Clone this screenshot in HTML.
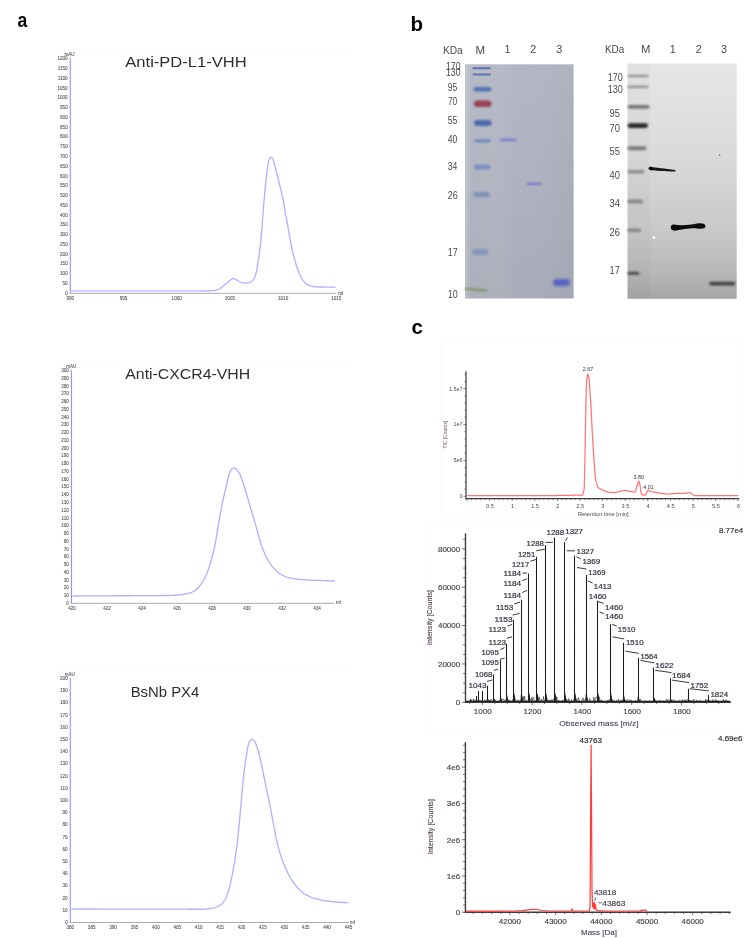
<!DOCTYPE html><html><head><meta charset="utf-8"><style>html,body{margin:0;padding:0;background:#fff;}svg{display:block;}text{font-family:"Liberation Sans", sans-serif;}</style></head><body>
<div id="wrap"><svg width="744" height="938" viewBox="0 0 744 938">
<rect width="744" height="938" fill="#fff"/>
<g style="will-change:transform">
<text x="17.6" y="27.1" font-size="20.5" fill="#000" text-anchor="start" font-weight="bold" textLength="9.8" lengthAdjust="spacingAndGlyphs">a</text>
<text x="410.6" y="31" font-size="20.5" fill="#000" text-anchor="start" font-weight="bold">b</text>
<text x="411.6" y="333.9" font-size="20.5" fill="#000" text-anchor="start" font-weight="bold">c</text>
<line x1="70.3" y1="57.8" x2="70.3" y2="293.6" stroke="#9292ff" stroke-width="1.1"/>
<line x1="70.3" y1="293.3" x2="336.5" y2="293.3" stroke="#a3a3a3" stroke-width="0.9"/>
<text x="67.7" y="294.8" font-size="4.6" fill="#505050" text-anchor="end" stroke="#505050" stroke-width="0.08">0</text>
<line x1="68.8" y1="293.1" x2="70.3" y2="293.1" stroke="#c8c8c8" stroke-width="0.5"/>
<text x="67.7" y="285.03" font-size="4.6" fill="#505050" text-anchor="end" stroke="#505050" stroke-width="0.08">50</text>
<line x1="68.8" y1="283.33" x2="70.3" y2="283.33" stroke="#c8c8c8" stroke-width="0.5"/>
<text x="67.7" y="275.25" font-size="4.6" fill="#505050" text-anchor="end" stroke="#505050" stroke-width="0.08">100</text>
<line x1="68.8" y1="273.56" x2="70.3" y2="273.56" stroke="#c8c8c8" stroke-width="0.5"/>
<text x="67.7" y="265.48" font-size="4.6" fill="#505050" text-anchor="end" stroke="#505050" stroke-width="0.08">150</text>
<line x1="68.8" y1="263.78" x2="70.3" y2="263.78" stroke="#c8c8c8" stroke-width="0.5"/>
<text x="67.7" y="255.71" font-size="4.6" fill="#505050" text-anchor="end" stroke="#505050" stroke-width="0.08">200</text>
<line x1="68.8" y1="254.01" x2="70.3" y2="254.01" stroke="#c8c8c8" stroke-width="0.5"/>
<text x="67.7" y="245.94" font-size="4.6" fill="#505050" text-anchor="end" stroke="#505050" stroke-width="0.08">250</text>
<line x1="68.8" y1="244.24" x2="70.3" y2="244.24" stroke="#c8c8c8" stroke-width="0.5"/>
<text x="67.7" y="236.17" font-size="4.6" fill="#505050" text-anchor="end" stroke="#505050" stroke-width="0.08">300</text>
<line x1="68.8" y1="234.47" x2="70.3" y2="234.47" stroke="#c8c8c8" stroke-width="0.5"/>
<text x="67.7" y="226.39" font-size="4.6" fill="#505050" text-anchor="end" stroke="#505050" stroke-width="0.08">350</text>
<line x1="68.8" y1="224.69" x2="70.3" y2="224.69" stroke="#c8c8c8" stroke-width="0.5"/>
<text x="67.7" y="216.62" font-size="4.6" fill="#505050" text-anchor="end" stroke="#505050" stroke-width="0.08">400</text>
<line x1="68.8" y1="214.92" x2="70.3" y2="214.92" stroke="#c8c8c8" stroke-width="0.5"/>
<text x="67.7" y="206.85" font-size="4.6" fill="#505050" text-anchor="end" stroke="#505050" stroke-width="0.08">450</text>
<line x1="68.8" y1="205.15" x2="70.3" y2="205.15" stroke="#c8c8c8" stroke-width="0.5"/>
<text x="67.7" y="197.07" font-size="4.6" fill="#505050" text-anchor="end" stroke="#505050" stroke-width="0.08">500</text>
<line x1="68.8" y1="195.38" x2="70.3" y2="195.38" stroke="#c8c8c8" stroke-width="0.5"/>
<text x="67.7" y="187.3" font-size="4.6" fill="#505050" text-anchor="end" stroke="#505050" stroke-width="0.08">550</text>
<line x1="68.8" y1="185.6" x2="70.3" y2="185.6" stroke="#c8c8c8" stroke-width="0.5"/>
<text x="67.7" y="177.53" font-size="4.6" fill="#505050" text-anchor="end" stroke="#505050" stroke-width="0.08">600</text>
<line x1="68.8" y1="175.83" x2="70.3" y2="175.83" stroke="#c8c8c8" stroke-width="0.5"/>
<text x="67.7" y="167.76" font-size="4.6" fill="#505050" text-anchor="end" stroke="#505050" stroke-width="0.08">650</text>
<line x1="68.8" y1="166.06" x2="70.3" y2="166.06" stroke="#c8c8c8" stroke-width="0.5"/>
<text x="67.7" y="157.99" font-size="4.6" fill="#505050" text-anchor="end" stroke="#505050" stroke-width="0.08">700</text>
<line x1="68.8" y1="156.29" x2="70.3" y2="156.29" stroke="#c8c8c8" stroke-width="0.5"/>
<text x="67.7" y="148.21" font-size="4.6" fill="#505050" text-anchor="end" stroke="#505050" stroke-width="0.08">750</text>
<line x1="68.8" y1="146.51" x2="70.3" y2="146.51" stroke="#c8c8c8" stroke-width="0.5"/>
<text x="67.7" y="138.44" font-size="4.6" fill="#505050" text-anchor="end" stroke="#505050" stroke-width="0.08">800</text>
<line x1="68.8" y1="136.74" x2="70.3" y2="136.74" stroke="#c8c8c8" stroke-width="0.5"/>
<text x="67.7" y="128.67" font-size="4.6" fill="#505050" text-anchor="end" stroke="#505050" stroke-width="0.08">850</text>
<line x1="68.8" y1="126.97" x2="70.3" y2="126.97" stroke="#c8c8c8" stroke-width="0.5"/>
<text x="67.7" y="118.9" font-size="4.6" fill="#505050" text-anchor="end" stroke="#505050" stroke-width="0.08">900</text>
<line x1="68.8" y1="117.2" x2="70.3" y2="117.2" stroke="#c8c8c8" stroke-width="0.5"/>
<text x="67.7" y="109.12" font-size="4.6" fill="#505050" text-anchor="end" stroke="#505050" stroke-width="0.08">950</text>
<line x1="68.8" y1="107.42" x2="70.3" y2="107.42" stroke="#c8c8c8" stroke-width="0.5"/>
<text x="67.7" y="99.35" font-size="4.6" fill="#505050" text-anchor="end" stroke="#505050" stroke-width="0.08">1000</text>
<line x1="68.8" y1="97.65" x2="70.3" y2="97.65" stroke="#c8c8c8" stroke-width="0.5"/>
<text x="67.7" y="89.58" font-size="4.6" fill="#505050" text-anchor="end" stroke="#505050" stroke-width="0.08">1050</text>
<line x1="68.8" y1="87.88" x2="70.3" y2="87.88" stroke="#c8c8c8" stroke-width="0.5"/>
<text x="67.7" y="79.81" font-size="4.6" fill="#505050" text-anchor="end" stroke="#505050" stroke-width="0.08">1100</text>
<line x1="68.8" y1="78.11" x2="70.3" y2="78.11" stroke="#c8c8c8" stroke-width="0.5"/>
<text x="67.7" y="70.03" font-size="4.6" fill="#505050" text-anchor="end" stroke="#505050" stroke-width="0.08">1150</text>
<line x1="68.8" y1="68.33" x2="70.3" y2="68.33" stroke="#c8c8c8" stroke-width="0.5"/>
<text x="67.7" y="60.26" font-size="4.6" fill="#505050" text-anchor="end" stroke="#505050" stroke-width="0.08">1200</text>
<line x1="68.8" y1="58.56" x2="70.3" y2="58.56" stroke="#c8c8c8" stroke-width="0.5"/>
<text x="70.3" y="299.6" font-size="4.6" fill="#505050" text-anchor="middle" stroke="#505050" stroke-width="0.08">990</text>
<text x="123.5" y="299.6" font-size="4.6" fill="#505050" text-anchor="middle" stroke="#505050" stroke-width="0.08">995</text>
<text x="176.7" y="299.6" font-size="4.6" fill="#505050" text-anchor="middle" stroke="#505050" stroke-width="0.08">1000</text>
<text x="229.9" y="299.6" font-size="4.6" fill="#505050" text-anchor="middle" stroke="#505050" stroke-width="0.08">1005</text>
<text x="283.1" y="299.6" font-size="4.6" fill="#505050" text-anchor="middle" stroke="#505050" stroke-width="0.08">1010</text>
<text x="336.3" y="299.6" font-size="4.6" fill="#505050" text-anchor="middle" stroke="#505050" stroke-width="0.08">1015</text>
<text x="64.6" y="56.3" font-size="4.6" fill="#505050" text-anchor="start" textLength="10" lengthAdjust="spacingAndGlyphs" stroke="#505050" stroke-width="0.08">mAU</text>
<text x="338.2" y="295" font-size="4.6" fill="#505050" text-anchor="start" stroke="#505050" stroke-width="0.08">ml</text>
<path d="M71.35,290.9 L71.84,290.9 L72.48,290.9 L73.22,290.9 L74,290.9 L74.8,290.9 L75.6,290.9 L76.4,290.9 L77.2,290.9 L78,290.9 L78.8,290.9 L79.6,290.9 L80.4,290.9 L81.2,290.9 L82,290.9 L82.8,290.9 L83.6,290.9 L84.4,290.9 L85.2,290.9 L86,290.9 L86.8,290.9 L87.6,290.9 L88.4,290.9 L89.2,290.9 L90,290.9 L90.8,290.9 L91.6,290.9 L92.4,290.9 L93.2,290.9 L94,290.9 L94.8,290.9 L95.6,290.9 L96.4,290.9 L97.2,290.9 L98,290.9 L98.8,290.9 L99.6,290.9 L100.4,290.9 L101.2,290.9 L102,290.9 L102.8,290.9 L103.6,290.9 L104.4,290.9 L105.2,290.9 L106,290.9 L106.8,290.9 L107.6,290.9 L108.4,290.9 L109.2,290.9 L110,290.9 L110.8,290.9 L111.6,290.9 L112.4,290.9 L113.2,290.9 L114,290.9 L114.8,290.9 L115.6,290.9 L116.4,290.9 L117.2,290.9 L118,290.9 L118.8,290.9 L119.6,290.9 L120.4,290.9 L121.2,290.9 L122,290.9 L122.8,290.9 L123.6,290.9 L124.4,290.9 L125.2,290.9 L126,290.9 L126.8,290.9 L127.6,290.9 L128.4,290.9 L129.2,290.9 L130,290.9 L130.8,290.9 L131.6,290.9 L132.4,290.9 L133.2,290.9 L134,290.9 L134.8,290.9 L135.6,290.9 L136.4,290.9 L137.2,290.9 L138,290.9 L138.8,290.9 L139.6,290.9 L140.4,290.9 L141.2,290.9 L142,290.9 L142.8,290.9 L143.6,290.9 L144.4,290.9 L145.2,290.9 L146,290.9 L146.8,290.9 L147.6,290.9 L148.4,290.9 L149.2,290.9 L150,290.9 L151,290.9 L151.8,290.9 L152.6,290.9 L153.4,290.9 L154.2,290.9 L155,290.9 L155.8,290.9 L156.6,290.9 L157.4,290.9 L158.2,290.9 L159,290.9 L159.8,290.9 L160.6,290.9 L161.4,290.9 L162.2,290.9 L163,290.9 L163.8,290.9 L164.6,290.9 L165.4,290.9 L166.2,290.9 L167,290.9 L167.8,290.9 L168.6,290.9 L169.4,290.9 L170.2,290.9 L171,290.9 L171.8,290.9 L172.6,290.9 L173.4,290.9 L174.2,290.9 L175,290.9 L175.8,290.9 L176.6,290.9 L177.4,290.9 L178.2,290.9 L179,290.9 L179.8,290.9 L180.6,290.9 L181.4,290.9 L182.2,290.9 L183,290.9 L183.8,290.9 L184.6,290.9 L185.4,290.9 L186.2,290.9 L187,290.9 L187.8,290.9 L188.6,290.9 L189.4,290.9 L190.2,290.9 L191,290.9 L191.8,290.9 L192.6,290.9 L193.4,290.9 L194.2,290.9 L195,290.9 L195.8,290.9 L196.6,290.9 L197.4,290.9 L198.2,290.9 L199,290.9 L199.8,290.9 L200.6,290.9 L201.4,290.9 L202.2,290.9 L203,290.9 L203.8,290.89 L204.6,290.89 L205.4,290.87 L206.2,290.85 L207,290.82 L207.8,290.79 L208.6,290.76 L209.4,290.73 L210.2,290.7 L211,290.67 L211.79,290.64 L212.59,290.6 L213.39,290.56 L214.19,290.5 L214.97,290.4 L215.75,290.26 L216.52,290.07 L217.28,289.84 L218.03,289.57 L218.75,289.26 L219.45,288.89 L220.12,288.47 L220.77,288.01 L221.41,287.53 L222.04,287.04 L222.67,286.55 L223.3,286.06 L223.92,285.55 L224.53,285.03 L225.13,284.51 L225.73,283.98 L226.33,283.44 L226.92,282.91 L227.68,282.25 L228.28,281.73 L228.9,281.23 L229.52,280.73 L230.16,280.24 L230.79,279.76 L231.44,279.31 L232.09,278.94 L232.78,278.69 L233.49,278.6 L234.21,278.68 L234.93,278.9 L235.63,279.23 L236.3,279.63 L236.96,280.08 L237.61,280.53 L238.28,280.96 L238.96,281.36 L239.67,281.72 L240.4,282.04 L241.14,282.32 L241.9,282.57 L242.66,282.78 L243.44,282.95 L244.22,283.08 L245.01,283.17 L245.8,283.21 L246.59,283.19 L247.37,283.1 L248.14,282.95 L248.91,282.75 L249.65,282.49 L250.36,282.17 L251.04,281.78 L251.69,281.33 L252.31,280.84 L252.88,280.3 L253.38,279.71 L253.83,279.07 L254.21,278.38 L254.56,277.67 L254.87,276.94 L255.14,276.19 L255.38,275.43 L255.61,274.66 L255.82,273.89 L256.03,273.12 L256.24,272.35 L256.43,271.57 L256.61,270.79 L256.77,270.01 L256.91,269.22 L257.03,268.43 L257.15,267.64 L257.27,266.85 L257.39,266.06 L257.5,265.27 L257.62,264.48 L257.74,263.69 L257.85,262.9 L257.97,262.1 L258.09,261.31 L258.2,260.52 L258.32,259.73 L258.43,258.94 L258.55,258.15 L258.67,257.36 L258.78,256.56 L258.9,255.77 L259.02,254.98 L259.13,254.19 L259.25,253.4 L259.36,252.61 L259.47,251.81 L259.58,251.02 L259.69,250.23 L259.79,249.43 L259.89,248.64 L259.99,247.85 L260.08,247.05 L260.18,246.26 L260.28,245.46 L260.38,244.67 L260.47,243.88 L260.57,243.08 L260.67,242.29 L260.77,241.49 L260.86,240.7 L260.95,239.9 L261.03,239.11 L261.1,238.31 L261.17,237.52 L261.24,236.72 L261.31,235.92 L261.37,235.12 L261.44,234.33 L261.51,233.53 L261.57,232.73 L261.64,231.94 L261.71,231.14 L261.79,230.14 L261.85,229.34 L261.92,228.55 L261.99,227.75 L262.05,226.95 L262.12,226.16 L262.19,225.36 L262.25,224.56 L262.31,223.76 L262.37,222.97 L262.43,222.17 L262.48,221.37 L262.54,220.57 L262.59,219.77 L262.65,218.97 L262.7,218.18 L262.76,217.38 L262.81,216.58 L262.87,215.78 L262.92,214.98 L262.98,214.19 L263.03,213.39 L263.09,212.59 L263.14,211.79 L263.2,210.99 L263.26,210.2 L263.32,209.4 L263.38,208.6 L263.45,207.8 L263.52,207.01 L263.59,206.21 L263.66,205.41 L263.73,204.62 L263.8,203.82 L263.87,203.02 L263.94,202.23 L264.01,201.43 L264.08,200.63 L264.15,199.84 L264.23,199.04 L264.3,198.24 L264.37,197.44 L264.44,196.65 L264.51,195.85 L264.58,195.05 L264.65,194.26 L264.73,193.46 L264.8,192.66 L264.87,191.87 L264.95,191.07 L265.02,190.27 L265.1,189.48 L265.17,188.68 L265.25,187.89 L265.32,187.09 L265.4,186.29 L265.47,185.5 L265.55,184.7 L265.62,183.9 L265.7,183.11 L265.78,182.31 L265.87,181.52 L265.96,180.72 L266.05,179.93 L266.14,179.13 L266.24,178.34 L266.33,177.54 L266.43,176.75 L266.52,175.95 L266.62,175.16 L266.71,174.36 L266.81,173.57 L266.9,172.78 L267,171.98 L267.1,171.19 L267.21,170.4 L267.32,169.6 L267.43,168.81 L267.55,168.02 L267.67,167.23 L267.78,166.44 L267.9,165.65 L268.01,164.85 L268.13,164.06 L268.26,163.28 L268.41,162.49 L268.57,161.71 L268.76,160.93 L268.96,160.16 L269.19,159.4 L269.45,158.67 L269.77,158.02 L270.17,157.52 L270.64,157.24 L271.14,157.24 L271.63,157.51 L272.09,158 L272.5,158.62 L272.86,159.31 L273.24,160.22 L273.51,160.97 L273.75,161.73 L273.99,162.5 L274.22,163.26 L274.45,164.03 L274.66,164.8 L274.86,165.57 L275.06,166.35 L275.26,167.12 L275.45,167.9 L275.64,168.68 L275.84,169.45 L276.03,170.23 L276.22,171 L276.42,171.78 L276.61,172.56 L276.8,173.33 L276.99,174.11 L277.18,174.89 L277.37,175.66 L277.57,176.44 L277.76,177.22 L277.95,177.99 L278.14,178.77 L278.34,179.55 L278.53,180.32 L278.72,181.1 L278.92,181.88 L279.11,182.65 L279.31,183.43 L279.5,184.2 L279.69,184.98 L279.89,185.76 L280.08,186.53 L280.27,187.31 L280.46,188.09 L280.66,188.86 L280.85,189.64 L281.04,190.42 L281.23,191.19 L281.42,191.97 L281.61,192.75 L281.79,193.53 L281.96,194.31 L282.13,195.09 L282.29,195.87 L282.46,196.66 L282.62,197.44 L282.78,198.22 L282.94,199.01 L283.1,199.79 L283.26,200.58 L283.4,201.36 L283.54,202.15 L283.67,202.94 L283.79,203.73 L283.91,204.52 L284.04,205.31 L284.16,206.1 L284.28,206.89 L284.4,207.68 L284.53,208.47 L284.65,209.26 L284.77,210.05 L284.9,210.84 L285.02,211.63 L285.14,212.42 L285.27,213.21 L285.41,214 L285.56,214.79 L285.72,215.57 L285.88,216.36 L286.04,217.14 L286.21,217.92 L286.37,218.7 L286.54,219.49 L286.7,220.27 L286.87,221.05 L287.03,221.84 L287.18,222.62 L287.33,223.41 L287.47,224.19 L287.61,224.98 L287.74,225.77 L287.87,226.56 L288,227.35 L288.13,228.14 L288.26,228.93 L288.39,229.72 L288.52,230.51 L288.65,231.3 L288.78,232.09 L288.92,232.87 L289.05,233.66 L289.19,234.45 L289.33,235.24 L289.47,236.03 L289.61,236.81 L289.75,237.6 L289.93,238.59 L290.07,239.37 L290.21,240.16 L290.35,240.95 L290.49,241.73 L290.64,242.52 L290.79,243.31 L290.94,244.09 L291.1,244.88 L291.27,245.66 L291.44,246.44 L291.61,247.22 L291.78,248 L291.95,248.78 L292.12,249.57 L292.3,250.35 L292.47,251.13 L292.64,251.91 L292.82,252.69 L293,253.47 L293.2,254.24 L293.4,255.02 L293.61,255.79 L293.82,256.56 L294.04,257.33 L294.26,258.1 L294.48,258.87 L294.69,259.64 L294.91,260.41 L295.13,261.18 L295.35,261.95 L295.57,262.72 L295.8,263.48 L296.04,264.25 L296.29,265.01 L296.54,265.77 L296.79,266.52 L297.05,267.28 L297.31,268.04 L297.57,268.79 L297.83,269.55 L298.08,270.31 L298.35,271.06 L298.62,271.82 L298.91,272.56 L299.22,273.3 L299.55,274.02 L299.9,274.74 L300.26,275.45 L300.63,276.16 L300.99,276.88 L301.36,277.59 L301.73,278.29 L302.12,278.99 L302.53,279.66 L302.99,280.31 L303.49,280.93 L304.02,281.52 L304.57,282.1 L305.12,282.67 L305.69,283.23 L306.27,283.77 L306.88,284.27 L307.53,284.69 L308.22,285.05 L308.95,285.35 L309.7,285.62 L310.45,285.88 L311.22,286.11 L311.98,286.32 L312.76,286.48 L313.54,286.6 L314.34,286.68 L315.13,286.73 L315.93,286.78 L316.73,286.82 L317.53,286.87 L318.33,286.91 L319.13,286.94 L319.93,286.98 L320.72,287 L321.52,287.02 L322.32,287.03 L323.12,287.04 L323.92,287.06 L324.72,287.07 L325.52,287.08 L326.32,287.09 L327.12,287.1 L327.92,287.11 L328.72,287.12 L329.52,287.13 L330.32,287.14 L331.12,287.14 L331.92,287.15 L332.72,287.16 L333.51,287.17 L334.26,287.18 L334.93,287.19 L335.57,287.19" fill="none" stroke="#b2b2ff" stroke-width="1.35" stroke-linejoin="round"/>
<text x="125.3" y="67" font-size="14" fill="#2e2e2e" text-anchor="start" textLength="121.4" lengthAdjust="spacingAndGlyphs">Anti-PD-L1-VHH</text>
<line x1="71.5" y1="370.1" x2="71.5" y2="603.6" stroke="#9292ff" stroke-width="1.1"/>
<line x1="71.5" y1="603.3" x2="334.5" y2="603.3" stroke="#a3a3a3" stroke-width="0.9"/>
<text x="68.9" y="604.8" font-size="4.6" fill="#505050" text-anchor="end" stroke="#505050" stroke-width="0.08">0</text>
<line x1="70" y1="603.1" x2="71.5" y2="603.1" stroke="#c8c8c8" stroke-width="0.5"/>
<text x="68.9" y="597.05" font-size="4.6" fill="#505050" text-anchor="end" stroke="#505050" stroke-width="0.08">10</text>
<line x1="70" y1="595.35" x2="71.5" y2="595.35" stroke="#c8c8c8" stroke-width="0.5"/>
<text x="68.9" y="589.29" font-size="4.6" fill="#505050" text-anchor="end" stroke="#505050" stroke-width="0.08">20</text>
<line x1="70" y1="587.59" x2="71.5" y2="587.59" stroke="#c8c8c8" stroke-width="0.5"/>
<text x="68.9" y="581.54" font-size="4.6" fill="#505050" text-anchor="end" stroke="#505050" stroke-width="0.08">30</text>
<line x1="70" y1="579.84" x2="71.5" y2="579.84" stroke="#c8c8c8" stroke-width="0.5"/>
<text x="68.9" y="573.78" font-size="4.6" fill="#505050" text-anchor="end" stroke="#505050" stroke-width="0.08">40</text>
<line x1="70" y1="572.08" x2="71.5" y2="572.08" stroke="#c8c8c8" stroke-width="0.5"/>
<text x="68.9" y="566.03" font-size="4.6" fill="#505050" text-anchor="end" stroke="#505050" stroke-width="0.08">50</text>
<line x1="70" y1="564.33" x2="71.5" y2="564.33" stroke="#c8c8c8" stroke-width="0.5"/>
<text x="68.9" y="558.27" font-size="4.6" fill="#505050" text-anchor="end" stroke="#505050" stroke-width="0.08">60</text>
<line x1="70" y1="556.57" x2="71.5" y2="556.57" stroke="#c8c8c8" stroke-width="0.5"/>
<text x="68.9" y="550.52" font-size="4.6" fill="#505050" text-anchor="end" stroke="#505050" stroke-width="0.08">70</text>
<line x1="70" y1="548.82" x2="71.5" y2="548.82" stroke="#c8c8c8" stroke-width="0.5"/>
<text x="68.9" y="542.76" font-size="4.6" fill="#505050" text-anchor="end" stroke="#505050" stroke-width="0.08">80</text>
<line x1="70" y1="541.06" x2="71.5" y2="541.06" stroke="#c8c8c8" stroke-width="0.5"/>
<text x="68.9" y="535.01" font-size="4.6" fill="#505050" text-anchor="end" stroke="#505050" stroke-width="0.08">90</text>
<line x1="70" y1="533.31" x2="71.5" y2="533.31" stroke="#c8c8c8" stroke-width="0.5"/>
<text x="68.9" y="527.25" font-size="4.6" fill="#505050" text-anchor="end" stroke="#505050" stroke-width="0.08">100</text>
<line x1="70" y1="525.55" x2="71.5" y2="525.55" stroke="#c8c8c8" stroke-width="0.5"/>
<text x="68.9" y="519.5" font-size="4.6" fill="#505050" text-anchor="end" stroke="#505050" stroke-width="0.08">110</text>
<line x1="70" y1="517.8" x2="71.5" y2="517.8" stroke="#c8c8c8" stroke-width="0.5"/>
<text x="68.9" y="511.74" font-size="4.6" fill="#505050" text-anchor="end" stroke="#505050" stroke-width="0.08">120</text>
<line x1="70" y1="510.04" x2="71.5" y2="510.04" stroke="#c8c8c8" stroke-width="0.5"/>
<text x="68.9" y="503.99" font-size="4.6" fill="#505050" text-anchor="end" stroke="#505050" stroke-width="0.08">130</text>
<line x1="70" y1="502.29" x2="71.5" y2="502.29" stroke="#c8c8c8" stroke-width="0.5"/>
<text x="68.9" y="496.23" font-size="4.6" fill="#505050" text-anchor="end" stroke="#505050" stroke-width="0.08">140</text>
<line x1="70" y1="494.53" x2="71.5" y2="494.53" stroke="#c8c8c8" stroke-width="0.5"/>
<text x="68.9" y="488.48" font-size="4.6" fill="#505050" text-anchor="end" stroke="#505050" stroke-width="0.08">150</text>
<line x1="70" y1="486.78" x2="71.5" y2="486.78" stroke="#c8c8c8" stroke-width="0.5"/>
<text x="68.9" y="480.72" font-size="4.6" fill="#505050" text-anchor="end" stroke="#505050" stroke-width="0.08">160</text>
<line x1="70" y1="479.02" x2="71.5" y2="479.02" stroke="#c8c8c8" stroke-width="0.5"/>
<text x="68.9" y="472.96" font-size="4.6" fill="#505050" text-anchor="end" stroke="#505050" stroke-width="0.08">170</text>
<line x1="70" y1="471.26" x2="71.5" y2="471.26" stroke="#c8c8c8" stroke-width="0.5"/>
<text x="68.9" y="465.21" font-size="4.6" fill="#505050" text-anchor="end" stroke="#505050" stroke-width="0.08">180</text>
<line x1="70" y1="463.51" x2="71.5" y2="463.51" stroke="#c8c8c8" stroke-width="0.5"/>
<text x="68.9" y="457.45" font-size="4.6" fill="#505050" text-anchor="end" stroke="#505050" stroke-width="0.08">190</text>
<line x1="70" y1="455.75" x2="71.5" y2="455.75" stroke="#c8c8c8" stroke-width="0.5"/>
<text x="68.9" y="449.7" font-size="4.6" fill="#505050" text-anchor="end" stroke="#505050" stroke-width="0.08">200</text>
<line x1="70" y1="448" x2="71.5" y2="448" stroke="#c8c8c8" stroke-width="0.5"/>
<text x="68.9" y="441.94" font-size="4.6" fill="#505050" text-anchor="end" stroke="#505050" stroke-width="0.08">210</text>
<line x1="70" y1="440.25" x2="71.5" y2="440.25" stroke="#c8c8c8" stroke-width="0.5"/>
<text x="68.9" y="434.19" font-size="4.6" fill="#505050" text-anchor="end" stroke="#505050" stroke-width="0.08">220</text>
<line x1="70" y1="432.49" x2="71.5" y2="432.49" stroke="#c8c8c8" stroke-width="0.5"/>
<text x="68.9" y="426.44" font-size="4.6" fill="#505050" text-anchor="end" stroke="#505050" stroke-width="0.08">230</text>
<line x1="70" y1="424.74" x2="71.5" y2="424.74" stroke="#c8c8c8" stroke-width="0.5"/>
<text x="68.9" y="418.68" font-size="4.6" fill="#505050" text-anchor="end" stroke="#505050" stroke-width="0.08">240</text>
<line x1="70" y1="416.98" x2="71.5" y2="416.98" stroke="#c8c8c8" stroke-width="0.5"/>
<text x="68.9" y="410.93" font-size="4.6" fill="#505050" text-anchor="end" stroke="#505050" stroke-width="0.08">250</text>
<line x1="70" y1="409.23" x2="71.5" y2="409.23" stroke="#c8c8c8" stroke-width="0.5"/>
<text x="68.9" y="403.17" font-size="4.6" fill="#505050" text-anchor="end" stroke="#505050" stroke-width="0.08">260</text>
<line x1="70" y1="401.47" x2="71.5" y2="401.47" stroke="#c8c8c8" stroke-width="0.5"/>
<text x="68.9" y="395.42" font-size="4.6" fill="#505050" text-anchor="end" stroke="#505050" stroke-width="0.08">270</text>
<line x1="70" y1="393.72" x2="71.5" y2="393.72" stroke="#c8c8c8" stroke-width="0.5"/>
<text x="68.9" y="387.66" font-size="4.6" fill="#505050" text-anchor="end" stroke="#505050" stroke-width="0.08">280</text>
<line x1="70" y1="385.96" x2="71.5" y2="385.96" stroke="#c8c8c8" stroke-width="0.5"/>
<text x="68.9" y="379.91" font-size="4.6" fill="#505050" text-anchor="end" stroke="#505050" stroke-width="0.08">290</text>
<line x1="70" y1="378.21" x2="71.5" y2="378.21" stroke="#c8c8c8" stroke-width="0.5"/>
<text x="68.9" y="372.15" font-size="4.6" fill="#505050" text-anchor="end" stroke="#505050" stroke-width="0.08">300</text>
<line x1="70" y1="370.45" x2="71.5" y2="370.45" stroke="#c8c8c8" stroke-width="0.5"/>
<text x="72" y="609.6" font-size="4.6" fill="#505050" text-anchor="middle" stroke="#505050" stroke-width="0.08">420</text>
<text x="107" y="609.6" font-size="4.6" fill="#505050" text-anchor="middle" stroke="#505050" stroke-width="0.08">422</text>
<text x="142" y="609.6" font-size="4.6" fill="#505050" text-anchor="middle" stroke="#505050" stroke-width="0.08">424</text>
<text x="177" y="609.6" font-size="4.6" fill="#505050" text-anchor="middle" stroke="#505050" stroke-width="0.08">426</text>
<text x="212" y="609.6" font-size="4.6" fill="#505050" text-anchor="middle" stroke="#505050" stroke-width="0.08">428</text>
<text x="247" y="609.6" font-size="4.6" fill="#505050" text-anchor="middle" stroke="#505050" stroke-width="0.08">430</text>
<text x="282" y="609.6" font-size="4.6" fill="#505050" text-anchor="middle" stroke="#505050" stroke-width="0.08">432</text>
<text x="317" y="609.6" font-size="4.6" fill="#505050" text-anchor="middle" stroke="#505050" stroke-width="0.08">434</text>
<text x="66.2" y="368.1" font-size="4.6" fill="#505050" text-anchor="start" textLength="10" lengthAdjust="spacingAndGlyphs" stroke="#505050" stroke-width="0.08">mAU</text>
<text x="336" y="604.2" font-size="4.6" fill="#505050" text-anchor="start" stroke="#505050" stroke-width="0.08">ml</text>
<path d="M72.55,596 L73.04,595.99 L73.68,595.99 L74.42,595.99 L75.2,595.98 L76,595.98 L76.8,595.98 L77.6,595.97 L78.4,595.97 L79.2,595.96 L80,595.96 L80.8,595.96 L81.6,595.95 L82.4,595.95 L83.2,595.94 L84,595.94 L84.8,595.93 L85.6,595.93 L86.4,595.93 L87.2,595.92 L88,595.92 L88.8,595.91 L89.6,595.91 L90.4,595.91 L91.2,595.9 L92,595.9 L92.8,595.89 L93.6,595.89 L94.4,595.89 L95.2,595.88 L96,595.88 L96.8,595.87 L97.6,595.87 L98.4,595.87 L99.2,595.86 L100,595.86 L100.8,595.85 L101.6,595.85 L102.4,595.84 L103.2,595.84 L104,595.84 L104.8,595.83 L105.6,595.83 L106.4,595.82 L107.2,595.82 L108,595.82 L108.8,595.81 L109.6,595.81 L110.4,595.8 L111.2,595.8 L112,595.8 L112.8,595.79 L113.6,595.79 L114.4,595.78 L115.2,595.78 L116,595.78 L116.8,595.77 L117.6,595.77 L118.4,595.76 L119.2,595.76 L120,595.76 L120.8,595.75 L121.6,595.75 L122.4,595.74 L123.2,595.74 L124,595.73 L124.8,595.73 L125.8,595.73 L126.6,595.72 L127.4,595.72 L128.2,595.71 L129,595.71 L129.8,595.71 L130.6,595.7 L131.4,595.7 L132.2,595.69 L133,595.69 L133.8,595.68 L134.6,595.68 L135.4,595.68 L136.2,595.67 L137,595.67 L137.8,595.66 L138.6,595.66 L139.4,595.66 L140.2,595.65 L141,595.65 L141.8,595.64 L142.6,595.64 L143.4,595.64 L144.2,595.63 L145,595.63 L145.8,595.62 L146.6,595.62 L147.4,595.62 L148.2,595.61 L149,595.61 L149.8,595.6 L150.6,595.6 L151.4,595.59 L152.2,595.59 L153,595.59 L153.8,595.58 L154.6,595.58 L155.4,595.57 L156.2,595.57 L157,595.57 L157.8,595.56 L158.6,595.56 L159.4,595.55 L160.2,595.55 L161,595.55 L161.8,595.54 L162.6,595.54 L163.4,595.53 L164.2,595.53 L165,595.53 L165.8,595.52 L166.6,595.52 L167.4,595.51 L168.2,595.51 L169,595.5 L169.8,595.48 L170.6,595.45 L171.4,595.42 L172.2,595.38 L172.99,595.34 L173.79,595.3 L174.59,595.26 L175.39,595.21 L176.19,595.17 L176.99,595.13 L177.79,595.08 L178.58,595.02 L179.58,594.92 L180.37,594.82 L181.16,594.71 L181.95,594.59 L182.74,594.46 L183.53,594.34 L184.32,594.21 L185.11,594.08 L185.9,593.93 L186.68,593.76 L187.45,593.56 L188.21,593.34 L188.98,593.1 L189.74,592.85 L190.49,592.6 L191.25,592.34 L192,592.07 L192.73,591.77 L193.44,591.42 L194.13,591.03 L194.78,590.58 L195.43,590.11 L196.06,589.63 L196.69,589.14 L197.3,588.63 L197.88,588.09 L198.43,587.51 L198.93,586.9 L199.42,586.27 L199.89,585.63 L200.35,584.98 L200.82,584.32 L201.28,583.67 L201.74,583.02 L202.19,582.36 L202.63,581.69 L203.04,581.01 L203.43,580.31 L203.8,579.6 L204.17,578.89 L204.53,578.18 L204.89,577.47 L205.25,576.75 L205.61,576.04 L205.97,575.32 L206.31,574.6 L206.64,573.87 L206.95,573.14 L207.25,572.39 L207.53,571.64 L207.81,570.89 L208.08,570.14 L208.36,569.39 L208.64,568.64 L208.91,567.89 L209.17,567.14 L209.43,566.38 L209.67,565.62 L209.91,564.85 L210.13,564.08 L210.35,563.32 L210.57,562.55 L210.79,561.78 L211.01,561.01 L211.23,560.24 L211.45,559.47 L211.66,558.7 L211.92,557.73 L212.12,556.96 L212.32,556.18 L212.51,555.41 L212.7,554.63 L212.89,553.85 L213.08,553.08 L213.27,552.3 L213.46,551.52 L213.65,550.74 L213.84,549.97 L214.02,549.19 L214.2,548.41 L214.37,547.63 L214.53,546.84 L214.69,546.06 L214.85,545.27 L215,544.49 L215.16,543.71 L215.32,542.92 L215.47,542.14 L215.63,541.35 L215.78,540.57 L215.93,539.78 L216.07,538.99 L216.21,538.21 L216.34,537.42 L216.46,536.63 L216.58,535.83 L216.7,535.04 L216.82,534.25 L216.94,533.46 L217.06,532.67 L217.18,531.88 L217.31,531.09 L217.43,530.3 L217.56,529.51 L217.69,528.72 L217.82,527.93 L217.96,527.14 L218.09,526.35 L218.23,525.57 L218.36,524.78 L218.5,523.99 L218.63,523.2 L218.77,522.41 L218.9,521.62 L219.04,520.84 L219.18,520.05 L219.31,519.26 L219.45,518.47 L219.58,517.68 L219.72,516.89 L219.85,516.1 L219.99,515.32 L220.13,514.53 L220.27,513.74 L220.42,512.96 L220.57,512.17 L220.73,511.39 L220.88,510.6 L221.04,509.82 L221.2,509.03 L221.36,508.25 L221.52,507.46 L221.67,506.68 L221.83,505.9 L222.03,504.92 L222.19,504.13 L222.34,503.35 L222.5,502.56 L222.66,501.78 L222.82,500.99 L222.98,500.21 L223.15,499.43 L223.32,498.65 L223.49,497.87 L223.67,497.09 L223.85,496.31 L224.03,495.53 L224.21,494.75 L224.39,493.97 L224.57,493.19 L224.75,492.41 L224.93,491.63 L225.11,490.85 L225.29,490.07 L225.48,489.29 L225.66,488.51 L225.84,487.73 L226.02,486.95 L226.2,486.18 L226.38,485.4 L226.56,484.62 L226.75,483.84 L226.93,483.06 L227.11,482.28 L227.29,481.5 L227.47,480.72 L227.66,479.94 L227.84,479.16 L228.02,478.39 L228.2,477.61 L228.39,476.83 L228.58,476.05 L228.78,475.28 L229.01,474.52 L229.27,473.76 L229.56,473.02 L229.87,472.29 L230.2,471.56 L230.54,470.84 L230.91,470.15 L231.34,469.51 L231.84,468.95 L232.42,468.5 L233.06,468.18 L233.74,468.04 L234.43,468.08 L235.12,468.3 L235.78,468.65 L236.39,469.11 L236.93,469.65 L237.42,470.26 L237.87,470.91 L238.31,471.57 L238.74,472.25 L239.16,472.93 L239.55,473.62 L239.92,474.33 L240.25,475.05 L240.54,475.79 L240.82,476.54 L241.09,477.29 L241.43,478.23 L241.7,478.99 L241.96,479.74 L242.23,480.49 L242.5,481.25 L242.76,482 L243.02,482.76 L243.28,483.52 L243.53,484.28 L243.77,485.04 L244.01,485.8 L244.25,486.57 L244.48,487.33 L244.72,488.1 L244.95,488.86 L245.19,489.63 L245.42,490.39 L245.65,491.16 L245.89,491.92 L246.12,492.69 L246.36,493.45 L246.59,494.22 L246.82,494.98 L247.05,495.75 L247.28,496.51 L247.5,497.28 L247.72,498.05 L247.94,498.82 L248.15,499.59 L248.37,500.36 L248.59,501.13 L248.81,501.9 L249.02,502.67 L249.24,503.44 L249.46,504.21 L249.67,504.98 L249.89,505.75 L250.11,506.52 L250.32,507.29 L250.54,508.06 L250.76,508.83 L250.99,509.6 L251.22,510.36 L251.45,511.13 L251.69,511.89 L251.93,512.66 L252.17,513.42 L252.41,514.18 L252.65,514.95 L252.89,515.71 L253.13,516.47 L253.37,517.24 L253.61,518 L253.85,518.76 L254.09,519.52 L254.33,520.29 L254.56,521.05 L254.79,521.82 L255.02,522.59 L255.23,523.36 L255.44,524.13 L255.65,524.9 L255.86,525.67 L256.07,526.45 L256.28,527.22 L256.48,527.99 L256.69,528.76 L256.95,529.73 L257.16,530.5 L257.36,531.28 L257.57,532.05 L257.78,532.82 L257.99,533.59 L258.2,534.36 L258.41,535.14 L258.63,535.91 L258.85,536.67 L259.07,537.44 L259.29,538.21 L259.52,538.98 L259.74,539.75 L259.97,540.51 L260.19,541.28 L260.42,542.05 L260.64,542.82 L260.87,543.59 L261.1,544.35 L261.32,545.12 L261.56,545.88 L261.81,546.64 L262.08,547.39 L262.37,548.14 L262.68,548.87 L263,549.61 L263.32,550.34 L263.64,551.07 L263.96,551.81 L264.28,552.54 L264.6,553.27 L264.92,554.01 L265.24,554.74 L265.56,555.47 L265.89,556.2 L266.24,556.92 L266.61,557.62 L267,558.32 L267.41,559.01 L267.82,559.69 L268.24,560.37 L268.66,561.05 L269.08,561.73 L269.51,562.41 L269.93,563.09 L270.35,563.77 L270.77,564.45 L271.2,565.12 L271.65,565.78 L272.13,566.42 L272.63,567.03 L273.17,567.62 L273.73,568.19 L274.29,568.76 L274.86,569.32 L275.43,569.88 L276,570.44 L276.57,571 L277.14,571.56 L277.72,572.11 L278.31,572.64 L278.93,573.13 L279.58,573.58 L280.26,573.99 L280.96,574.37 L281.67,574.73 L282.57,575.18 L283.28,575.54 L284,575.9 L284.71,576.25 L285.43,576.6 L286.16,576.92 L286.9,577.2 L287.66,577.43 L288.43,577.62 L289.21,577.78 L290,577.92 L290.78,578.06 L291.57,578.2 L292.36,578.34 L293.15,578.48 L293.94,578.62 L294.72,578.76 L295.51,578.89 L296.3,579.03 L297.09,579.16 L297.88,579.27 L298.67,579.37 L299.47,579.45 L300.27,579.52 L301.06,579.57 L301.86,579.63 L302.66,579.68 L303.46,579.73 L304.26,579.78 L305.05,579.84 L305.85,579.89 L306.65,579.94 L307.45,579.99 L308.25,580.05 L309.05,580.1 L309.84,580.15 L310.64,580.2 L311.44,580.25 L312.24,580.28 L313.04,580.32 L313.84,580.34 L314.64,580.37 L315.44,580.39 L316.24,580.41 L317.04,580.43 L317.84,580.45 L318.64,580.47 L319.44,580.49 L320.24,580.51 L321.04,580.53 L321.84,580.56 L322.64,580.58 L323.43,580.6 L324.23,580.63 L325.03,580.66 L325.83,580.69 L326.63,580.73 L327.43,580.76 L328.23,580.79 L329.03,580.83 L329.83,580.86 L330.63,580.89 L331.43,580.93 L332.23,580.96 L333.01,580.99 L333.76,581.02 L334.43,581.05 L335.06,581.08" fill="none" stroke="#b2b2ff" stroke-width="1.35" stroke-linejoin="round"/>
<text x="125.3" y="378.8" font-size="14" fill="#2e2e2e" text-anchor="start" textLength="124.8" lengthAdjust="spacingAndGlyphs">Anti-CXCR4-VHH</text>
<line x1="70.3" y1="677.8" x2="70.3" y2="922.8" stroke="#9292ff" stroke-width="1.1"/>
<line x1="70.3" y1="922.5" x2="349" y2="922.5" stroke="#a3a3a3" stroke-width="0.9"/>
<text x="67.7" y="924" font-size="4.6" fill="#505050" text-anchor="end" stroke="#505050" stroke-width="0.08">0</text>
<line x1="68.8" y1="922.3" x2="70.3" y2="922.3" stroke="#c8c8c8" stroke-width="0.5"/>
<text x="67.7" y="911.8" font-size="4.6" fill="#505050" text-anchor="end" stroke="#505050" stroke-width="0.08">10</text>
<line x1="68.8" y1="910.1" x2="70.3" y2="910.1" stroke="#c8c8c8" stroke-width="0.5"/>
<text x="67.7" y="899.61" font-size="4.6" fill="#505050" text-anchor="end" stroke="#505050" stroke-width="0.08">20</text>
<line x1="68.8" y1="897.91" x2="70.3" y2="897.91" stroke="#c8c8c8" stroke-width="0.5"/>
<text x="67.7" y="887.41" font-size="4.6" fill="#505050" text-anchor="end" stroke="#505050" stroke-width="0.08">30</text>
<line x1="68.8" y1="885.71" x2="70.3" y2="885.71" stroke="#c8c8c8" stroke-width="0.5"/>
<text x="67.7" y="875.22" font-size="4.6" fill="#505050" text-anchor="end" stroke="#505050" stroke-width="0.08">40</text>
<line x1="68.8" y1="873.52" x2="70.3" y2="873.52" stroke="#c8c8c8" stroke-width="0.5"/>
<text x="67.7" y="863.02" font-size="4.6" fill="#505050" text-anchor="end" stroke="#505050" stroke-width="0.08">50</text>
<line x1="68.8" y1="861.32" x2="70.3" y2="861.32" stroke="#c8c8c8" stroke-width="0.5"/>
<text x="67.7" y="850.83" font-size="4.6" fill="#505050" text-anchor="end" stroke="#505050" stroke-width="0.08">60</text>
<line x1="68.8" y1="849.13" x2="70.3" y2="849.13" stroke="#c8c8c8" stroke-width="0.5"/>
<text x="67.7" y="838.63" font-size="4.6" fill="#505050" text-anchor="end" stroke="#505050" stroke-width="0.08">70</text>
<line x1="68.8" y1="836.93" x2="70.3" y2="836.93" stroke="#c8c8c8" stroke-width="0.5"/>
<text x="67.7" y="826.44" font-size="4.6" fill="#505050" text-anchor="end" stroke="#505050" stroke-width="0.08">80</text>
<line x1="68.8" y1="824.74" x2="70.3" y2="824.74" stroke="#c8c8c8" stroke-width="0.5"/>
<text x="67.7" y="814.25" font-size="4.6" fill="#505050" text-anchor="end" stroke="#505050" stroke-width="0.08">90</text>
<line x1="68.8" y1="812.54" x2="70.3" y2="812.54" stroke="#c8c8c8" stroke-width="0.5"/>
<text x="67.7" y="802.05" font-size="4.6" fill="#505050" text-anchor="end" stroke="#505050" stroke-width="0.08">100</text>
<line x1="68.8" y1="800.35" x2="70.3" y2="800.35" stroke="#c8c8c8" stroke-width="0.5"/>
<text x="67.7" y="789.86" font-size="4.6" fill="#505050" text-anchor="end" stroke="#505050" stroke-width="0.08">110</text>
<line x1="68.8" y1="788.15" x2="70.3" y2="788.15" stroke="#c8c8c8" stroke-width="0.5"/>
<text x="67.7" y="777.66" font-size="4.6" fill="#505050" text-anchor="end" stroke="#505050" stroke-width="0.08">120</text>
<line x1="68.8" y1="775.96" x2="70.3" y2="775.96" stroke="#c8c8c8" stroke-width="0.5"/>
<text x="67.7" y="765.47" font-size="4.6" fill="#505050" text-anchor="end" stroke="#505050" stroke-width="0.08">130</text>
<line x1="68.8" y1="763.76" x2="70.3" y2="763.76" stroke="#c8c8c8" stroke-width="0.5"/>
<text x="67.7" y="753.27" font-size="4.6" fill="#505050" text-anchor="end" stroke="#505050" stroke-width="0.08">140</text>
<line x1="68.8" y1="751.57" x2="70.3" y2="751.57" stroke="#c8c8c8" stroke-width="0.5"/>
<text x="67.7" y="741.08" font-size="4.6" fill="#505050" text-anchor="end" stroke="#505050" stroke-width="0.08">150</text>
<line x1="68.8" y1="739.38" x2="70.3" y2="739.38" stroke="#c8c8c8" stroke-width="0.5"/>
<text x="67.7" y="728.88" font-size="4.6" fill="#505050" text-anchor="end" stroke="#505050" stroke-width="0.08">160</text>
<line x1="68.8" y1="727.18" x2="70.3" y2="727.18" stroke="#c8c8c8" stroke-width="0.5"/>
<text x="67.7" y="716.68" font-size="4.6" fill="#505050" text-anchor="end" stroke="#505050" stroke-width="0.08">170</text>
<line x1="68.8" y1="714.98" x2="70.3" y2="714.98" stroke="#c8c8c8" stroke-width="0.5"/>
<text x="67.7" y="704.49" font-size="4.6" fill="#505050" text-anchor="end" stroke="#505050" stroke-width="0.08">180</text>
<line x1="68.8" y1="702.79" x2="70.3" y2="702.79" stroke="#c8c8c8" stroke-width="0.5"/>
<text x="67.7" y="692.29" font-size="4.6" fill="#505050" text-anchor="end" stroke="#505050" stroke-width="0.08">190</text>
<line x1="68.8" y1="690.59" x2="70.3" y2="690.59" stroke="#c8c8c8" stroke-width="0.5"/>
<text x="67.7" y="680.1" font-size="4.6" fill="#505050" text-anchor="end" stroke="#505050" stroke-width="0.08">200</text>
<line x1="68.8" y1="678.4" x2="70.3" y2="678.4" stroke="#c8c8c8" stroke-width="0.5"/>
<text x="70.3" y="928.8" font-size="4.6" fill="#505050" text-anchor="middle" stroke="#505050" stroke-width="0.08">380</text>
<text x="91.7" y="928.8" font-size="4.6" fill="#505050" text-anchor="middle" stroke="#505050" stroke-width="0.08">385</text>
<text x="113.1" y="928.8" font-size="4.6" fill="#505050" text-anchor="middle" stroke="#505050" stroke-width="0.08">390</text>
<text x="134.5" y="928.8" font-size="4.6" fill="#505050" text-anchor="middle" stroke="#505050" stroke-width="0.08">395</text>
<text x="155.9" y="928.8" font-size="4.6" fill="#505050" text-anchor="middle" stroke="#505050" stroke-width="0.08">400</text>
<text x="177.3" y="928.8" font-size="4.6" fill="#505050" text-anchor="middle" stroke="#505050" stroke-width="0.08">405</text>
<text x="198.7" y="928.8" font-size="4.6" fill="#505050" text-anchor="middle" stroke="#505050" stroke-width="0.08">410</text>
<text x="220.1" y="928.8" font-size="4.6" fill="#505050" text-anchor="middle" stroke="#505050" stroke-width="0.08">415</text>
<text x="241.5" y="928.8" font-size="4.6" fill="#505050" text-anchor="middle" stroke="#505050" stroke-width="0.08">420</text>
<text x="262.9" y="928.8" font-size="4.6" fill="#505050" text-anchor="middle" stroke="#505050" stroke-width="0.08">425</text>
<text x="284.3" y="928.8" font-size="4.6" fill="#505050" text-anchor="middle" stroke="#505050" stroke-width="0.08">430</text>
<text x="305.7" y="928.8" font-size="4.6" fill="#505050" text-anchor="middle" stroke="#505050" stroke-width="0.08">435</text>
<text x="327.1" y="928.8" font-size="4.6" fill="#505050" text-anchor="middle" stroke="#505050" stroke-width="0.08">440</text>
<text x="348.5" y="928.8" font-size="4.6" fill="#505050" text-anchor="middle" stroke="#505050" stroke-width="0.08">445</text>
<text x="64.8" y="676.2" font-size="4.6" fill="#505050" text-anchor="start" textLength="10" lengthAdjust="spacingAndGlyphs" stroke="#505050" stroke-width="0.08">mAU</text>
<text x="350" y="923.5" font-size="4.6" fill="#505050" text-anchor="start" stroke="#505050" stroke-width="0.08">ml</text>
<path d="M71.35,909 L71.84,909 L72.48,909 L73.22,909 L74,909.01 L74.8,909.01 L75.6,909.01 L76.4,909.01 L77.2,909.01 L78,909.01 L78.8,909.01 L79.6,909.01 L80.4,909.02 L81.2,909.02 L82,909.02 L82.8,909.02 L83.6,909.02 L84.4,909.02 L85.2,909.02 L86,909.03 L86.8,909.03 L87.6,909.03 L88.4,909.03 L89.2,909.03 L90,909.03 L90.8,909.03 L91.6,909.03 L92.4,909.04 L93.2,909.04 L94,909.04 L94.8,909.04 L95.6,909.04 L96.4,909.04 L97.2,909.04 L98,909.05 L98.8,909.05 L99.6,909.05 L100.4,909.05 L101.2,909.05 L102,909.05 L102.8,909.05 L103.6,909.06 L104.4,909.06 L105.2,909.06 L106,909.06 L106.8,909.06 L107.6,909.06 L108.4,909.06 L109.2,909.06 L110,909.07 L110.8,909.07 L111.6,909.07 L112.4,909.07 L113.2,909.07 L114,909.07 L114.8,909.07 L115.6,909.08 L116.4,909.08 L117.2,909.08 L118,909.08 L118.8,909.08 L119.6,909.08 L120.4,909.08 L121.2,909.08 L122,909.09 L122.8,909.09 L123.6,909.09 L124.4,909.09 L125.2,909.09 L126,909.09 L126.8,909.09 L127.6,909.1 L128.4,909.1 L129.2,909.1 L130,909.1 L130.8,909.1 L131.6,909.1 L132.4,909.1 L133.2,909.1 L134,909.11 L134.8,909.11 L135.6,909.11 L136.4,909.11 L137.2,909.11 L138,909.11 L138.8,909.11 L139.6,909.12 L140.4,909.12 L141.2,909.12 L142,909.12 L142.8,909.12 L143.6,909.12 L144.4,909.12 L145.2,909.12 L146,909.13 L146.8,909.13 L147.6,909.13 L148.4,909.13 L149.2,909.13 L150,909.13 L150.8,909.13 L151.6,909.14 L152.4,909.14 L153.2,909.14 L154,909.14 L154.8,909.14 L155.6,909.14 L156.4,909.14 L157.2,909.14 L158,909.15 L158.8,909.15 L159.6,909.15 L160.4,909.15 L161.2,909.15 L162,909.15 L162.8,909.15 L163.6,909.16 L164.4,909.16 L165.2,909.16 L166,909.16 L166.8,909.16 L167.6,909.16 L168.4,909.16 L169.2,909.17 L170,909.17 L170.8,909.17 L171.6,909.17 L172.4,909.17 L173.2,909.17 L174,909.17 L174.8,909.17 L175.6,909.18 L176.4,909.18 L177.2,909.18 L178.2,909.18 L179,909.18 L179.8,909.18 L180.6,909.18 L181.4,909.19 L182.2,909.19 L183,909.19 L183.8,909.19 L184.6,909.19 L185.4,909.19 L186.2,909.19 L187,909.19 L187.8,909.2 L188.6,909.2 L189.4,909.2 L190.2,909.2 L191,909.2 L191.8,909.2 L192.6,909.2 L193.4,909.2 L194.2,909.2 L195,909.2 L195.8,909.2 L196.6,909.2 L197.4,909.2 L198.2,909.2 L199,909.2 L199.8,909.2 L200.6,909.2 L201.4,909.2 L202.2,909.2 L203,909.18 L203.8,909.16 L204.6,909.12 L205.39,909.07 L206.19,909 L206.99,908.93 L207.78,908.86 L208.58,908.78 L209.38,908.7 L210.17,908.62 L210.96,908.51 L211.75,908.38 L212.53,908.22 L213.31,908.04 L214.08,907.84 L214.85,907.64 L215.62,907.42 L216.38,907.18 L217.12,906.89 L217.83,906.56 L218.53,906.18 L219.21,905.77 L219.88,905.34 L220.55,904.9 L221.18,904.43 L221.78,903.92 L222.33,903.36 L222.84,902.75 L223.32,902.12 L223.79,901.47 L224.25,900.82 L224.71,900.16 L225.13,899.49 L225.53,898.8 L225.88,898.09 L226.19,897.36 L226.48,896.62 L226.76,895.87 L227.03,895.12 L227.31,894.37 L227.58,893.61 L227.85,892.86 L228.11,892.11 L228.37,891.35 L228.6,890.59 L228.82,889.82 L229.02,889.04 L229.22,888.27 L229.41,887.49 L229.6,886.71 L229.79,885.94 L229.98,885.16 L230.17,884.38 L230.36,883.61 L230.55,882.83 L230.73,882.05 L230.91,881.27 L231.08,880.49 L231.24,879.71 L231.4,878.92 L231.56,878.14 L231.72,877.35 L231.88,876.57 L232.03,875.78 L232.19,875 L232.35,874.22 L232.51,873.43 L232.66,872.65 L232.82,871.86 L232.96,871.08 L233.11,870.29 L233.26,869.5 L233.4,868.72 L233.54,867.93 L233.69,867.14 L233.83,866.35 L233.98,865.57 L234.12,864.78 L234.26,863.99 L234.4,863.21 L234.54,862.42 L234.67,861.63 L234.79,860.84 L234.91,860.05 L235.02,859.25 L235.13,858.46 L235.23,857.67 L235.34,856.88 L235.45,856.08 L235.56,855.29 L235.67,854.5 L235.77,853.71 L235.88,852.91 L235.99,852.12 L236.1,851.33 L236.21,850.54 L236.33,849.74 L236.44,848.95 L236.55,848.16 L236.67,847.37 L236.78,846.58 L236.9,845.79 L237.01,844.99 L237.15,844 L237.25,843.21 L237.34,842.42 L237.43,841.62 L237.51,840.83 L237.59,840.03 L237.67,839.23 L237.75,838.44 L237.83,837.64 L237.91,836.84 L237.99,836.05 L238.07,835.25 L238.14,834.46 L238.22,833.66 L238.3,832.86 L238.38,832.07 L238.46,831.27 L238.54,830.48 L238.62,829.68 L238.7,828.88 L238.77,828.09 L238.85,827.29 L238.93,826.5 L239.01,825.7 L239.09,824.9 L239.16,824.11 L239.24,823.31 L239.31,822.51 L239.39,821.72 L239.46,820.92 L239.53,820.12 L239.61,819.33 L239.68,818.53 L239.75,817.73 L239.83,816.94 L239.9,816.14 L239.98,815.34 L240.05,814.55 L240.12,813.75 L240.2,812.95 L240.27,812.16 L240.35,811.36 L240.42,810.56 L240.49,809.77 L240.57,808.97 L240.64,808.17 L240.71,807.38 L240.79,806.58 L240.86,805.78 L240.93,804.99 L241.01,804.19 L241.08,803.39 L241.15,802.6 L241.22,801.8 L241.29,801 L241.36,800.21 L241.43,799.41 L241.5,798.61 L241.57,797.82 L241.64,797.02 L241.71,796.22 L241.78,795.43 L241.85,794.63 L241.92,793.83 L241.99,793.03 L242.06,792.24 L242.13,791.44 L242.2,790.64 L242.27,789.85 L242.34,789.05 L242.41,788.25 L242.47,787.46 L242.54,786.66 L242.61,785.86 L242.68,785.06 L242.76,784.27 L242.83,783.47 L242.91,782.68 L242.99,781.88 L243.07,781.08 L243.16,780.29 L243.25,779.49 L243.34,778.7 L243.43,777.9 L243.52,777.11 L243.62,776.31 L243.71,775.52 L243.8,774.73 L243.89,773.93 L243.98,773.14 L244.07,772.34 L244.16,771.55 L244.25,770.75 L244.34,769.96 L244.43,769.16 L244.52,768.37 L244.61,767.57 L244.71,766.78 L244.81,765.98 L244.91,765.19 L245.03,764.4 L245.14,763.61 L245.26,762.82 L245.38,762.02 L245.49,761.23 L245.61,760.44 L245.73,759.65 L245.85,758.86 L245.96,758.07 L246.08,757.28 L246.2,756.49 L246.32,755.69 L246.44,754.9 L246.56,754.11 L246.69,753.32 L246.83,752.54 L246.97,751.75 L247.12,750.96 L247.27,750.18 L247.43,749.39 L247.58,748.61 L247.73,747.82 L247.89,747.04 L248.04,746.25 L248.2,745.47 L248.37,744.69 L248.58,743.93 L248.83,743.19 L249.16,742.48 L249.55,741.79 L249.98,741.13 L250.43,740.5 L250.9,739.92 L251.51,739.4 L252.01,739.24 L252.54,739.35 L253.08,739.7 L253.63,740.18 L254.16,740.74 L254.64,741.36 L255.06,742.01 L255.42,742.71 L255.73,743.44 L256.01,744.18 L256.28,744.93 L256.55,745.69 L256.82,746.44 L257.09,747.19 L257.36,747.95 L257.62,748.7 L257.88,749.46 L258.12,750.22 L258.34,750.99 L258.55,751.76 L258.74,752.54 L258.92,753.31 L259.1,754.09 L259.28,754.87 L259.46,755.65 L259.64,756.43 L259.81,757.21 L259.99,757.99 L260.17,758.77 L260.35,759.55 L260.53,760.33 L260.71,761.11 L260.88,761.89 L261.06,762.67 L261.24,763.45 L261.42,764.23 L261.6,765.01 L261.77,765.79 L261.95,766.57 L262.12,767.35 L262.28,768.14 L262.44,768.92 L262.6,769.71 L262.75,770.49 L262.91,771.28 L263.06,772.06 L263.22,772.85 L263.37,773.63 L263.53,774.41 L263.68,775.2 L263.84,775.98 L263.99,776.77 L264.15,777.55 L264.3,778.34 L264.46,779.12 L264.62,779.91 L264.77,780.69 L264.93,781.48 L265.08,782.26 L265.24,783.05 L265.39,783.83 L265.55,784.62 L265.71,785.4 L265.87,786.18 L266.03,786.97 L266.2,787.75 L266.37,788.53 L266.54,789.31 L266.71,790.1 L266.88,790.88 L267.05,791.66 L267.22,792.44 L267.39,793.22 L267.56,794 L267.73,794.79 L267.9,795.57 L268.07,796.35 L268.24,797.13 L268.41,797.91 L268.58,798.69 L268.75,799.48 L268.92,800.26 L269.09,801.04 L269.26,801.82 L269.43,802.6 L269.59,803.39 L269.76,804.17 L269.91,804.95 L270.06,805.74 L270.21,806.52 L270.36,807.31 L270.5,808.1 L270.65,808.88 L270.8,809.67 L270.94,810.46 L271.09,811.24 L271.23,812.03 L271.38,812.82 L271.52,813.6 L271.67,814.39 L271.82,815.18 L271.96,815.96 L272.11,816.75 L272.25,817.54 L272.4,818.32 L272.55,819.11 L272.69,819.9 L272.84,820.68 L272.98,821.47 L273.13,822.26 L273.27,823.04 L273.42,823.83 L273.57,824.62 L273.71,825.4 L273.86,826.19 L274.01,826.98 L274.15,827.76 L274.3,828.55 L274.45,829.33 L274.59,830.12 L274.74,830.91 L274.89,831.69 L275.04,832.48 L275.18,833.27 L275.33,834.05 L275.49,834.84 L275.64,835.62 L275.81,836.4 L275.97,837.19 L276.14,837.97 L276.32,838.75 L276.49,839.53 L276.66,840.31 L276.87,841.29 L277.05,842.07 L277.22,842.85 L277.39,843.63 L277.57,844.41 L277.74,845.19 L277.93,845.97 L278.13,846.74 L278.34,847.52 L278.56,848.29 L278.79,849.05 L279.01,849.82 L279.24,850.59 L279.46,851.35 L279.69,852.12 L279.92,852.89 L280.15,853.66 L280.37,854.42 L280.6,855.19 L280.83,855.96 L281.07,856.72 L281.31,857.48 L281.58,858.24 L281.85,858.98 L282.14,859.73 L282.44,860.47 L282.74,861.22 L283.04,861.96 L283.34,862.7 L283.64,863.44 L283.94,864.18 L284.23,864.92 L284.53,865.67 L284.83,866.41 L285.13,867.15 L285.44,867.89 L285.75,868.62 L286.08,869.35 L286.41,870.08 L286.76,870.8 L287.12,871.51 L287.48,872.23 L287.84,872.94 L288.2,873.66 L288.56,874.37 L288.92,875.08 L289.29,875.8 L289.65,876.51 L290.02,877.22 L290.41,877.91 L290.82,878.6 L291.25,879.27 L291.7,879.93 L292.16,880.59 L292.62,881.24 L293.09,881.89 L293.55,882.54 L294.02,883.19 L294.48,883.84 L294.95,884.49 L295.42,885.14 L295.9,885.77 L296.41,886.39 L296.93,886.99 L297.48,887.58 L298.03,888.15 L298.59,888.72 L299.15,889.29 L299.71,889.86 L300.27,890.43 L300.84,891 L301.4,891.57 L301.97,892.12 L302.57,892.65 L303.19,893.14 L303.84,893.58 L304.53,893.98 L305.23,894.36 L305.94,894.72 L306.66,895.08 L307.37,895.44 L308.09,895.79 L308.8,896.15 L309.52,896.51 L310.23,896.86 L310.96,897.2 L311.68,897.53 L312.43,897.81 L313.18,898.07 L313.95,898.29 L314.72,898.49 L315.49,898.68 L316.27,898.88 L317.05,899.07 L317.82,899.26 L318.6,899.45 L319.38,899.64 L320.16,899.83 L320.93,900.02 L321.71,900.21 L322.49,900.39 L323.27,900.55 L324.06,900.69 L324.85,900.82 L325.64,900.92 L326.43,901.02 L327.23,901.12 L328.02,901.21 L328.81,901.31 L329.61,901.4 L330.4,901.5 L331.2,901.59 L331.99,901.69 L332.79,901.78 L333.58,901.88 L334.37,901.97 L335.17,902.05 L335.97,902.13 L336.76,902.19 L337.56,902.24 L338.36,902.28 L339.16,902.31 L339.96,902.35 L340.76,902.38 L341.56,902.41 L342.36,902.44 L343.16,902.47 L343.95,902.5 L344.75,902.54 L345.55,902.57 L346.34,902.6 L347.08,902.63 L347.75,902.65 L348.37,902.68" fill="none" stroke="#b2b2ff" stroke-width="1.35" stroke-linejoin="round"/>
<text x="130.7" y="696.5" font-size="14" fill="#2e2e2e" text-anchor="start" textLength="68.6" lengthAdjust="spacingAndGlyphs">BsNb PX4</text>
<defs>
<filter id="bl1" x="-20%" y="-200%" width="140%" height="500%"><feGaussianBlur stdDeviation="0.9"/></filter>
<filter id="bl2" x="-20%" y="-200%" width="140%" height="500%"><feGaussianBlur stdDeviation="1.3"/></filter>
<filter id="bl3" x="-30%" y="-300%" width="160%" height="700%"><feGaussianBlur stdDeviation="1.7"/></filter>
<filter id="bl05" x="-20%" y="-200%" width="140%" height="500%"><feGaussianBlur stdDeviation="0.55"/></filter>
<linearGradient id="g1v" x1="0" y1="0" x2="0" y2="1"><stop offset="0" stop-color="#b3b7c3"/><stop offset="0.5" stop-color="#aeb2be"/><stop offset="1" stop-color="#a8acb8"/></linearGradient>
<linearGradient id="g1h" x1="0" y1="0" x2="1" y2="0"><stop offset="0" stop-color="#fff" stop-opacity="0.22"/><stop offset="0.06" stop-color="#fff" stop-opacity="0.04"/><stop offset="0.3" stop-color="#fff" stop-opacity="0.06"/><stop offset="0.5" stop-color="#fff" stop-opacity="0.0"/><stop offset="1" stop-color="#000" stop-opacity="0.03"/></linearGradient>
<linearGradient id="g2v" x1="0" y1="0" x2="0" y2="1"><stop offset="0" stop-color="#e6e6e6"/><stop offset="0.4" stop-color="#dadada"/><stop offset="0.7" stop-color="#c9c9c9"/><stop offset="0.88" stop-color="#b8b8b8"/><stop offset="1" stop-color="#a6a6a6"/></linearGradient>
</defs>
<rect x="465" y="64.3" width="108.6" height="234.2" fill="url(#g1v)"/>
<rect x="465" y="64.3" width="108.6" height="234.2" fill="url(#g1h)"/>
<rect x="472.3" y="67.35" width="18.5" height="1.9" rx="0.95" fill="#5a74ad" opacity="1" filter="url(#bl05)"/>
<rect x="472.5" y="73.5" width="18.5" height="2" rx="1" fill="#5c78b2" opacity="1" filter="url(#bl05)"/>
<rect x="473.5" y="87" width="18" height="4.6" rx="2.3" fill="#5374b4" opacity="1" filter="url(#bl1)"/>
<rect x="474" y="100.6" width="17.5" height="6.4" rx="3.2" fill="#9a4257" opacity="1" filter="url(#bl1)"/>
<rect x="474" y="120.1" width="17.6" height="6" rx="3" fill="#4d6bae" opacity="1" filter="url(#bl1)"/>
<rect x="474.3" y="139.2" width="16.5" height="3.2" rx="1.6" fill="#6f88bc" opacity="1" filter="url(#bl1)"/>
<rect x="474" y="164.5" width="16.5" height="5" rx="2.5" fill="#7890bf" opacity="1" filter="url(#bl2)"/>
<rect x="473" y="192" width="17" height="5" rx="2.5" fill="#7b8fb8" opacity="1" filter="url(#bl3)"/>
<rect x="472" y="249.3" width="16.4" height="5.6" rx="2.8" fill="#8095bc" opacity="1" filter="url(#bl3)"/>
<path d="M465.5,288.7 L487,290.7" stroke="#6a8a40" stroke-width="1.6" stroke-linecap="round" filter="url(#bl1)"/>
<rect x="499.6" y="138.8" width="17.1" height="2.2" rx="1.1" fill="#7474d4" opacity="1" filter="url(#bl1)"/>
<rect x="526.8" y="182.7" width="15.1" height="2.2" rx="1.1" fill="#7474d4" opacity="1" filter="url(#bl1)"/>
<rect x="553" y="278.9" width="17" height="7.4" rx="3.7" fill="#5864c0" opacity="1" filter="url(#bl3)"/>
<text x="442.9" y="53.5" font-size="10.8" fill="#4a4a4a" text-anchor="start" textLength="19.9" lengthAdjust="spacingAndGlyphs">KDa</text>
<text x="475.6" y="53.5" font-size="10.8" fill="#4a4a4a" text-anchor="start" textLength="9.6" lengthAdjust="spacingAndGlyphs">M</text>
<text x="507.5" y="53.3" font-size="10.8" fill="#4a4a4a" text-anchor="middle">1</text>
<text x="533.3" y="53.3" font-size="10.8" fill="#4a4a4a" text-anchor="middle">2</text>
<text x="559.2" y="53.3" font-size="10.8" fill="#4a4a4a" text-anchor="middle">3</text>
<text x="446" y="69.5" font-size="10.3" fill="#4a4a4a" text-anchor="start" textLength="14.6" lengthAdjust="spacingAndGlyphs">170</text>
<text x="446" y="76.4" font-size="10.3" fill="#4a4a4a" text-anchor="start" textLength="14.6" lengthAdjust="spacingAndGlyphs">130</text>
<text x="447.7" y="90.5" font-size="10.3" fill="#4a4a4a" text-anchor="start" textLength="9.6" lengthAdjust="spacingAndGlyphs">95</text>
<text x="447.9" y="105" font-size="10.3" fill="#4a4a4a" text-anchor="start" textLength="9.4" lengthAdjust="spacingAndGlyphs">70</text>
<text x="447.7" y="123.5" font-size="10.3" fill="#4a4a4a" text-anchor="start" textLength="9.6" lengthAdjust="spacingAndGlyphs">55</text>
<text x="447.7" y="142.8" font-size="10.3" fill="#4a4a4a" text-anchor="start" textLength="9.6" lengthAdjust="spacingAndGlyphs">40</text>
<text x="447.7" y="170.2" font-size="10.3" fill="#4a4a4a" text-anchor="start" textLength="9.6" lengthAdjust="spacingAndGlyphs">34</text>
<text x="447.7" y="199" font-size="10.3" fill="#4a4a4a" text-anchor="start" textLength="10" lengthAdjust="spacingAndGlyphs">26</text>
<text x="447.7" y="255.7" font-size="10.3" fill="#4a4a4a" text-anchor="start" textLength="10" lengthAdjust="spacingAndGlyphs">17</text>
<text x="447.7" y="297.7" font-size="10.3" fill="#4a4a4a" text-anchor="start" textLength="10" lengthAdjust="spacingAndGlyphs">10</text>
<rect x="627.5" y="63.5" width="109.2" height="235.3" fill="url(#g2v)"/>
<rect x="627.5" y="63.5" width="22" height="235.3" fill="#000" opacity="0.02"/>
<rect x="627.5" y="75.1" width="21.1" height="2" rx="1" fill="#868686" opacity="1" filter="url(#bl1)"/>
<rect x="627.5" y="85.7" width="21.1" height="2.4" rx="1.2" fill="#8c8c8c" opacity="1" filter="url(#bl1)"/>
<rect x="627.5" y="104.9" width="22" height="3.8" rx="1.9" fill="#767676" opacity="1" filter="url(#bl2)"/>
<rect x="627.5" y="123.2" width="20.5" height="4.8" rx="2.4" fill="#2a2a2a" opacity="1" filter="url(#bl2)"/>
<rect x="627.5" y="146.2" width="19" height="4" rx="2" fill="#7c7c7c" opacity="1" filter="url(#bl2)"/>
<rect x="627.5" y="170.1" width="17" height="3.4" rx="1.7" fill="#8c8c8c" opacity="1" filter="url(#bl2)"/>
<rect x="627.5" y="199.4" width="15.5" height="4" rx="2" fill="#888" opacity="1" filter="url(#bl2)"/>
<rect x="627.5" y="228.2" width="13.5" height="4" rx="2" fill="#888" opacity="1" filter="url(#bl2)"/>
<rect x="627.5" y="271.7" width="12" height="3" rx="1.5" fill="#4a4a4a" opacity="1" filter="url(#bl1)"/>
<path d="M650.5,167.0 C656,167.4 664,168.8 675.5,169.9 L675.5,171.5 C664,171.4 656,170.6 650.5,170.2 Z" fill="#151515" filter="url(#bl05)"/>
<circle cx="650.6" cy="168.3" r="1.9" fill="#000" filter="url(#bl05)"/>
<path d="M673.5,224.6 C680,225.6 690,225.2 697,223.6 C702,222.6 705.5,223.8 705.5,226.2 C705.5,228.6 701,229 697,228.4 C690,228 681,229.6 676,230.6 C672,231.2 670.5,228.8 670.8,227.6 C671,225.4 672,224.4 673.5,224.6 Z" fill="#0a0a0a" filter="url(#bl05)"/>
<rect x="709.2" y="281.7" width="26" height="3.8" rx="1.9" fill="#454545" opacity="1" filter="url(#bl1)"/>
<circle cx="654" cy="237.4" r="1.3" fill="#fff" filter="url(#bl05)"/>
<circle cx="719.7" cy="155.3" r="0.7" fill="#555"/>
<text x="604.9" y="53" font-size="10.8" fill="#4a4a4a" text-anchor="start" textLength="19.3" lengthAdjust="spacingAndGlyphs">KDa</text>
<text x="641.1" y="53" font-size="10.8" fill="#4a4a4a" text-anchor="start" textLength="9.4" lengthAdjust="spacingAndGlyphs">M</text>
<text x="672.8" y="53" font-size="10.8" fill="#4a4a4a" text-anchor="middle">1</text>
<text x="698.7" y="53" font-size="10.8" fill="#4a4a4a" text-anchor="middle">2</text>
<text x="724.1" y="53" font-size="10.8" fill="#4a4a4a" text-anchor="middle">3</text>
<text x="607.7" y="81.3" font-size="10.3" fill="#4a4a4a" text-anchor="start" textLength="15.1" lengthAdjust="spacingAndGlyphs">170</text>
<text x="607.7" y="93" font-size="10.3" fill="#4a4a4a" text-anchor="start" textLength="15.1" lengthAdjust="spacingAndGlyphs">130</text>
<text x="609.6" y="116.6" font-size="10.3" fill="#4a4a4a" text-anchor="start" textLength="10.4" lengthAdjust="spacingAndGlyphs">95</text>
<text x="609.6" y="132.2" font-size="10.3" fill="#4a4a4a" text-anchor="start" textLength="10.4" lengthAdjust="spacingAndGlyphs">70</text>
<text x="609.6" y="155.2" font-size="10.3" fill="#4a4a4a" text-anchor="start" textLength="10.4" lengthAdjust="spacingAndGlyphs">55</text>
<text x="609.6" y="178.8" font-size="10.3" fill="#4a4a4a" text-anchor="start" textLength="10.4" lengthAdjust="spacingAndGlyphs">40</text>
<text x="609.6" y="207" font-size="10.3" fill="#4a4a4a" text-anchor="start" textLength="10.4" lengthAdjust="spacingAndGlyphs">34</text>
<text x="609.6" y="235.8" font-size="10.3" fill="#4a4a4a" text-anchor="start" textLength="10.4" lengthAdjust="spacingAndGlyphs">26</text>
<text x="609.6" y="273.9" font-size="10.3" fill="#4a4a4a" text-anchor="start" textLength="10.4" lengthAdjust="spacingAndGlyphs">17</text>
<rect x="440.7" y="342.9" width="301.7" height="173.4" fill="none" stroke="#fafaf3" stroke-width="0.8"/>
<rect x="425" y="524" width="319" height="210" fill="none" stroke="#f9f9f9" stroke-width="0.8"/>
<path d="M56,49 L352,49 M56,360 L352,360 M56,669 L352,669" stroke="#fbfbfb" stroke-width="0.8"/>
<line x1="466" y1="371.3" x2="466" y2="499.2" stroke="#3c3c3c" stroke-width="1.2"/>
<line x1="465.5" y1="498.6" x2="739.2" y2="498.6" stroke="#3c3c3c" stroke-width="1.2"/>
<line x1="463.4" y1="496.3" x2="466" y2="496.3" stroke="#3c3c3c" stroke-width="0.6"/>
<line x1="464.4" y1="489.12" x2="466" y2="489.12" stroke="#3c3c3c" stroke-width="0.6"/>
<line x1="464.4" y1="481.94" x2="466" y2="481.94" stroke="#3c3c3c" stroke-width="0.6"/>
<line x1="464.4" y1="474.76" x2="466" y2="474.76" stroke="#3c3c3c" stroke-width="0.6"/>
<line x1="464.4" y1="467.58" x2="466" y2="467.58" stroke="#3c3c3c" stroke-width="0.6"/>
<line x1="463.4" y1="460.4" x2="466" y2="460.4" stroke="#3c3c3c" stroke-width="0.6"/>
<line x1="464.4" y1="453.22" x2="466" y2="453.22" stroke="#3c3c3c" stroke-width="0.6"/>
<line x1="464.4" y1="446.04" x2="466" y2="446.04" stroke="#3c3c3c" stroke-width="0.6"/>
<line x1="464.4" y1="438.86" x2="466" y2="438.86" stroke="#3c3c3c" stroke-width="0.6"/>
<line x1="464.4" y1="431.68" x2="466" y2="431.68" stroke="#3c3c3c" stroke-width="0.6"/>
<line x1="463.4" y1="424.5" x2="466" y2="424.5" stroke="#3c3c3c" stroke-width="0.6"/>
<line x1="464.4" y1="417.32" x2="466" y2="417.32" stroke="#3c3c3c" stroke-width="0.6"/>
<line x1="464.4" y1="410.14" x2="466" y2="410.14" stroke="#3c3c3c" stroke-width="0.6"/>
<line x1="464.4" y1="402.96" x2="466" y2="402.96" stroke="#3c3c3c" stroke-width="0.6"/>
<line x1="464.4" y1="395.78" x2="466" y2="395.78" stroke="#3c3c3c" stroke-width="0.6"/>
<line x1="463.4" y1="388.6" x2="466" y2="388.6" stroke="#3c3c3c" stroke-width="0.6"/>
<line x1="464.4" y1="381.42" x2="466" y2="381.42" stroke="#3c3c3c" stroke-width="0.6"/>
<line x1="464.4" y1="374.24" x2="466" y2="374.24" stroke="#3c3c3c" stroke-width="0.6"/>
<text x="462.6" y="390.5" font-size="5.4" fill="#4a4a4a" text-anchor="end">1.5e7</text>
<text x="462.6" y="426.4" font-size="5.4" fill="#4a4a4a" text-anchor="end">1e7</text>
<text x="462.6" y="462.3" font-size="5.4" fill="#4a4a4a" text-anchor="end">5e6</text>
<text x="462.6" y="498.2" font-size="5.4" fill="#4a4a4a" text-anchor="end">0</text>
<line x1="467" y1="498.6" x2="467" y2="501" stroke="#3c3c3c" stroke-width="0.6"/>
<line x1="471.52" y1="498.6" x2="471.52" y2="500.1" stroke="#3c3c3c" stroke-width="0.6"/>
<line x1="476.04" y1="498.6" x2="476.04" y2="500.1" stroke="#3c3c3c" stroke-width="0.6"/>
<line x1="480.56" y1="498.6" x2="480.56" y2="500.1" stroke="#3c3c3c" stroke-width="0.6"/>
<line x1="485.08" y1="498.6" x2="485.08" y2="500.1" stroke="#3c3c3c" stroke-width="0.6"/>
<line x1="489.6" y1="498.6" x2="489.6" y2="501" stroke="#3c3c3c" stroke-width="0.6"/>
<line x1="494.12" y1="498.6" x2="494.12" y2="500.1" stroke="#3c3c3c" stroke-width="0.6"/>
<line x1="498.64" y1="498.6" x2="498.64" y2="500.1" stroke="#3c3c3c" stroke-width="0.6"/>
<line x1="503.16" y1="498.6" x2="503.16" y2="500.1" stroke="#3c3c3c" stroke-width="0.6"/>
<line x1="507.68" y1="498.6" x2="507.68" y2="500.1" stroke="#3c3c3c" stroke-width="0.6"/>
<line x1="512.2" y1="498.6" x2="512.2" y2="501" stroke="#3c3c3c" stroke-width="0.6"/>
<line x1="516.72" y1="498.6" x2="516.72" y2="500.1" stroke="#3c3c3c" stroke-width="0.6"/>
<line x1="521.24" y1="498.6" x2="521.24" y2="500.1" stroke="#3c3c3c" stroke-width="0.6"/>
<line x1="525.76" y1="498.6" x2="525.76" y2="500.1" stroke="#3c3c3c" stroke-width="0.6"/>
<line x1="530.28" y1="498.6" x2="530.28" y2="500.1" stroke="#3c3c3c" stroke-width="0.6"/>
<line x1="534.8" y1="498.6" x2="534.8" y2="501" stroke="#3c3c3c" stroke-width="0.6"/>
<line x1="539.32" y1="498.6" x2="539.32" y2="500.1" stroke="#3c3c3c" stroke-width="0.6"/>
<line x1="543.84" y1="498.6" x2="543.84" y2="500.1" stroke="#3c3c3c" stroke-width="0.6"/>
<line x1="548.36" y1="498.6" x2="548.36" y2="500.1" stroke="#3c3c3c" stroke-width="0.6"/>
<line x1="552.88" y1="498.6" x2="552.88" y2="500.1" stroke="#3c3c3c" stroke-width="0.6"/>
<line x1="557.4" y1="498.6" x2="557.4" y2="501" stroke="#3c3c3c" stroke-width="0.6"/>
<line x1="561.92" y1="498.6" x2="561.92" y2="500.1" stroke="#3c3c3c" stroke-width="0.6"/>
<line x1="566.44" y1="498.6" x2="566.44" y2="500.1" stroke="#3c3c3c" stroke-width="0.6"/>
<line x1="570.96" y1="498.6" x2="570.96" y2="500.1" stroke="#3c3c3c" stroke-width="0.6"/>
<line x1="575.48" y1="498.6" x2="575.48" y2="500.1" stroke="#3c3c3c" stroke-width="0.6"/>
<line x1="580" y1="498.6" x2="580" y2="501" stroke="#3c3c3c" stroke-width="0.6"/>
<line x1="584.52" y1="498.6" x2="584.52" y2="500.1" stroke="#3c3c3c" stroke-width="0.6"/>
<line x1="589.04" y1="498.6" x2="589.04" y2="500.1" stroke="#3c3c3c" stroke-width="0.6"/>
<line x1="593.56" y1="498.6" x2="593.56" y2="500.1" stroke="#3c3c3c" stroke-width="0.6"/>
<line x1="598.08" y1="498.6" x2="598.08" y2="500.1" stroke="#3c3c3c" stroke-width="0.6"/>
<line x1="602.6" y1="498.6" x2="602.6" y2="501" stroke="#3c3c3c" stroke-width="0.6"/>
<line x1="607.12" y1="498.6" x2="607.12" y2="500.1" stroke="#3c3c3c" stroke-width="0.6"/>
<line x1="611.64" y1="498.6" x2="611.64" y2="500.1" stroke="#3c3c3c" stroke-width="0.6"/>
<line x1="616.16" y1="498.6" x2="616.16" y2="500.1" stroke="#3c3c3c" stroke-width="0.6"/>
<line x1="620.68" y1="498.6" x2="620.68" y2="500.1" stroke="#3c3c3c" stroke-width="0.6"/>
<line x1="625.2" y1="498.6" x2="625.2" y2="501" stroke="#3c3c3c" stroke-width="0.6"/>
<line x1="629.72" y1="498.6" x2="629.72" y2="500.1" stroke="#3c3c3c" stroke-width="0.6"/>
<line x1="634.24" y1="498.6" x2="634.24" y2="500.1" stroke="#3c3c3c" stroke-width="0.6"/>
<line x1="638.76" y1="498.6" x2="638.76" y2="500.1" stroke="#3c3c3c" stroke-width="0.6"/>
<line x1="643.28" y1="498.6" x2="643.28" y2="500.1" stroke="#3c3c3c" stroke-width="0.6"/>
<line x1="647.8" y1="498.6" x2="647.8" y2="501" stroke="#3c3c3c" stroke-width="0.6"/>
<line x1="652.32" y1="498.6" x2="652.32" y2="500.1" stroke="#3c3c3c" stroke-width="0.6"/>
<line x1="656.84" y1="498.6" x2="656.84" y2="500.1" stroke="#3c3c3c" stroke-width="0.6"/>
<line x1="661.36" y1="498.6" x2="661.36" y2="500.1" stroke="#3c3c3c" stroke-width="0.6"/>
<line x1="665.88" y1="498.6" x2="665.88" y2="500.1" stroke="#3c3c3c" stroke-width="0.6"/>
<line x1="670.4" y1="498.6" x2="670.4" y2="501" stroke="#3c3c3c" stroke-width="0.6"/>
<line x1="674.92" y1="498.6" x2="674.92" y2="500.1" stroke="#3c3c3c" stroke-width="0.6"/>
<line x1="679.44" y1="498.6" x2="679.44" y2="500.1" stroke="#3c3c3c" stroke-width="0.6"/>
<line x1="683.96" y1="498.6" x2="683.96" y2="500.1" stroke="#3c3c3c" stroke-width="0.6"/>
<line x1="688.48" y1="498.6" x2="688.48" y2="500.1" stroke="#3c3c3c" stroke-width="0.6"/>
<line x1="693" y1="498.6" x2="693" y2="501" stroke="#3c3c3c" stroke-width="0.6"/>
<line x1="697.52" y1="498.6" x2="697.52" y2="500.1" stroke="#3c3c3c" stroke-width="0.6"/>
<line x1="702.04" y1="498.6" x2="702.04" y2="500.1" stroke="#3c3c3c" stroke-width="0.6"/>
<line x1="706.56" y1="498.6" x2="706.56" y2="500.1" stroke="#3c3c3c" stroke-width="0.6"/>
<line x1="711.08" y1="498.6" x2="711.08" y2="500.1" stroke="#3c3c3c" stroke-width="0.6"/>
<line x1="715.6" y1="498.6" x2="715.6" y2="501" stroke="#3c3c3c" stroke-width="0.6"/>
<line x1="720.12" y1="498.6" x2="720.12" y2="500.1" stroke="#3c3c3c" stroke-width="0.6"/>
<line x1="724.64" y1="498.6" x2="724.64" y2="500.1" stroke="#3c3c3c" stroke-width="0.6"/>
<line x1="729.16" y1="498.6" x2="729.16" y2="500.1" stroke="#3c3c3c" stroke-width="0.6"/>
<line x1="733.68" y1="498.6" x2="733.68" y2="500.1" stroke="#3c3c3c" stroke-width="0.6"/>
<line x1="738.2" y1="498.6" x2="738.2" y2="501" stroke="#3c3c3c" stroke-width="0.6"/>
<text x="489.9" y="507.8" font-size="5.6" fill="#4a4a4a" text-anchor="middle">0.5</text>
<text x="512.5" y="507.8" font-size="5.6" fill="#4a4a4a" text-anchor="middle">1</text>
<text x="535.1" y="507.8" font-size="5.6" fill="#4a4a4a" text-anchor="middle">1.5</text>
<text x="557.7" y="507.8" font-size="5.6" fill="#4a4a4a" text-anchor="middle">2</text>
<text x="580.3" y="507.8" font-size="5.6" fill="#4a4a4a" text-anchor="middle">2.5</text>
<text x="602.9" y="507.8" font-size="5.6" fill="#4a4a4a" text-anchor="middle">3</text>
<text x="625.5" y="507.8" font-size="5.6" fill="#4a4a4a" text-anchor="middle">3.5</text>
<text x="648.1" y="507.8" font-size="5.6" fill="#4a4a4a" text-anchor="middle">4</text>
<text x="670.7" y="507.8" font-size="5.6" fill="#4a4a4a" text-anchor="middle">4.5</text>
<text x="693.3" y="507.8" font-size="5.6" fill="#4a4a4a" text-anchor="middle">5</text>
<text x="715.9" y="507.8" font-size="5.6" fill="#4a4a4a" text-anchor="middle">5.5</text>
<text x="738.5" y="507.8" font-size="5.6" fill="#4a4a4a" text-anchor="middle">6</text>
<text x="603.3" y="515.8" font-size="5.6" fill="#4a4a4a" text-anchor="middle" textLength="50.8" lengthAdjust="spacingAndGlyphs">Retention time [min]</text>
<text transform="translate(446.6,434.6) rotate(-90)" font-size="5.6" fill="#6e5060" text-anchor="middle" textLength="28" lengthAdjust="spacingAndGlyphs">TIC [Counts]</text>
<path d="M467.2,495.6 L467.46,495.6 L467.81,495.6 L468.2,495.6 L468.6,495.6 L469,495.6 L469.4,495.6 L469.8,495.6 L470.2,495.6 L470.6,495.6 L471,495.6 L471.4,495.6 L471.8,495.6 L472.2,495.6 L472.6,495.6 L473,495.6 L473.4,495.6 L473.8,495.6 L474.2,495.6 L474.6,495.6 L475,495.6 L475.4,495.6 L475.8,495.6 L476.2,495.6 L476.6,495.6 L477,495.6 L477.4,495.6 L477.8,495.6 L478.2,495.6 L478.6,495.6 L479,495.6 L479.4,495.6 L479.8,495.6 L480.2,495.6 L480.6,495.6 L481,495.6 L481.4,495.6 L481.8,495.6 L482.2,495.6 L482.6,495.6 L483,495.6 L483.4,495.6 L483.8,495.6 L484.2,495.6 L484.6,495.6 L485,495.6 L485.4,495.6 L485.8,495.6 L486.2,495.6 L486.6,495.6 L487,495.6 L487.4,495.6 L487.8,495.6 L488.2,495.6 L488.6,495.6 L489,495.6 L489.4,495.6 L489.8,495.6 L490.2,495.6 L490.6,495.6 L491,495.6 L491.4,495.6 L491.8,495.6 L492.2,495.6 L492.6,495.6 L493,495.6 L493.4,495.6 L493.8,495.6 L494.2,495.6 L494.6,495.6 L495,495.6 L495.4,495.6 L495.8,495.6 L496.2,495.6 L496.6,495.6 L497,495.6 L497.4,495.6 L497.8,495.6 L498.2,495.6 L498.6,495.6 L499,495.6 L499.4,495.6 L499.8,495.6 L500.2,495.6 L500.6,495.6 L501,495.6 L501.4,495.6 L501.8,495.6 L502.2,495.6 L502.6,495.6 L503,495.6 L503.4,495.6 L503.8,495.6 L504.2,495.6 L504.6,495.6 L505,495.6 L505.4,495.6 L505.8,495.6 L506.2,495.6 L506.6,495.6 L507,495.6 L507.4,495.6 L507.8,495.6 L508.2,495.6 L508.6,495.6 L509,495.6 L509.4,495.6 L509.8,495.6 L510.2,495.6 L510.6,495.6 L511,495.6 L511.4,495.6 L511.8,495.6 L512.2,495.6 L512.6,495.6 L513,495.6 L513.4,495.6 L513.8,495.6 L514.2,495.6 L514.6,495.6 L515,495.6 L515.4,495.6 L515.8,495.6 L516.2,495.6 L516.6,495.6 L517,495.6 L517.4,495.6 L517.8,495.6 L518.2,495.6 L518.6,495.6 L519,495.6 L519.4,495.6 L519.8,495.6 L520.2,495.6 L520.6,495.6 L521,495.6 L521.4,495.6 L521.8,495.6 L522.2,495.6 L522.6,495.6 L523,495.6 L523.4,495.6 L523.8,495.6 L524.2,495.6 L524.6,495.6 L525,495.6 L525.4,495.6 L525.8,495.6 L526.2,495.6 L526.6,495.6 L527,495.6 L527.4,495.6 L527.8,495.6 L528.2,495.6 L528.6,495.6 L529,495.6 L529.4,495.6 L529.8,495.6 L530.2,495.6 L530.6,495.6 L531,495.6 L531.4,495.6 L531.8,495.6 L532.2,495.6 L532.6,495.6 L533,495.6 L533.4,495.6 L533.8,495.6 L534.2,495.6 L534.6,495.6 L535,495.6 L535.4,495.6 L535.8,495.6 L536.2,495.6 L536.6,495.6 L537,495.6 L537.4,495.6 L537.8,495.6 L538.2,495.6 L538.6,495.6 L539,495.6 L539.4,495.6 L539.8,495.6 L540.2,495.6 L540.6,495.6 L541,495.6 L541.4,495.6 L541.8,495.6 L542.2,495.6 L542.6,495.6 L543,495.6 L543.4,495.6 L543.8,495.6 L544.2,495.6 L544.6,495.6 L545,495.6 L545.4,495.6 L545.8,495.6 L546.2,495.6 L546.6,495.6 L547,495.6 L547.4,495.6 L547.8,495.6 L548.2,495.6 L548.6,495.6 L549,495.6 L549.4,495.6 L549.8,495.6 L550.2,495.6 L550.6,495.6 L551,495.6 L551.4,495.6 L551.8,495.6 L552.2,495.6 L552.6,495.6 L553,495.6 L553.4,495.6 L553.8,495.6 L554.2,495.6 L554.6,495.6 L555,495.6 L555.4,495.6 L555.8,495.58 L556.2,495.55 L556.59,495.51 L556.99,495.45 L557.38,495.4 L557.78,495.35 L558.18,495.32 L558.58,495.3 L558.98,495.3 L559.38,495.29 L559.78,495.29 L560.18,495.29 L560.58,495.29 L560.98,495.29 L561.38,495.29 L561.78,495.28 L562.18,495.28 L562.58,495.28 L562.98,495.28 L563.38,495.28 L563.78,495.28 L564.18,495.27 L564.58,495.27 L564.98,495.27 L565.38,495.27 L565.78,495.27 L566.18,495.27 L566.58,495.27 L566.98,495.26 L567.38,495.26 L567.78,495.26 L568.18,495.26 L568.58,495.26 L568.98,495.26 L569.38,495.25 L569.78,495.25 L570.18,495.25 L570.58,495.25 L570.98,495.25 L571.38,495.25 L571.78,495.24 L572.18,495.24 L572.58,495.24 L572.98,495.24 L573.38,495.24 L573.78,495.24 L574.18,495.23 L574.58,495.23 L574.98,495.23 L575.38,495.23 L575.78,495.23 L576.18,495.23 L576.58,495.22 L576.98,495.22 L577.38,495.22 L577.78,495.22 L578.18,495.22 L578.58,495.22 L578.98,495.21 L579.38,495.21 L579.78,495.21 L580.18,495.21 L580.58,495.21 L580.98,495.21 L581.38,495.2 L581.77,495.19 L582.14,495.15 L582.44,495.02 L582.65,494.77 L582.78,494.44 L582.89,494.06 L582.99,493.67 L583.09,493.29 L583.19,492.9 L583.29,492.51 L583.39,492.12 L583.49,491.74 L583.59,491.35 L583.69,490.96 L583.79,490.57 L583.89,490.19 L583.99,489.8 L584.08,489.41 L584.15,489.02 L584.19,488.62 L584.22,488.23 L584.23,487.83 L584.24,487.43 L584.25,487.03 L584.26,486.63 L584.27,486.23 L584.28,485.83 L584.29,485.43 L584.3,485.03 L584.31,484.63 L584.32,484.23 L584.33,483.83 L584.34,483.43 L584.35,483.03 L584.36,482.63 L584.37,482.23 L584.38,481.83 L584.39,481.43 L584.4,480.93 L584.41,480.53 L584.42,480.13 L584.43,479.73 L584.44,479.33 L584.45,478.93 L584.46,478.53 L584.47,478.13 L584.48,477.73 L584.49,477.33 L584.5,476.93 L584.51,476.53 L584.52,476.13 L584.53,475.73 L584.54,475.33 L584.55,474.93 L584.56,474.53 L584.57,474.13 L584.58,473.73 L584.59,473.33 L584.6,472.93 L584.61,472.53 L584.62,472.13 L584.63,471.73 L584.64,471.33 L584.65,470.93 L584.66,470.53 L584.67,470.13 L584.68,469.73 L584.69,469.33 L584.7,468.93 L584.71,468.53 L584.72,468.13 L584.73,467.73 L584.74,467.33 L584.75,466.93 L584.76,466.53 L584.77,466.13 L584.78,465.73 L584.79,465.33 L584.8,464.93 L584.81,464.53 L584.82,464.13 L584.83,463.73 L584.84,463.33 L584.85,462.93 L584.86,462.53 L584.87,462.13 L584.88,461.73 L584.89,461.33 L584.9,460.93 L584.91,460.53 L584.92,460.13 L584.93,459.73 L584.94,459.33 L584.95,458.93 L584.96,458.54 L584.97,458.14 L584.98,457.74 L584.99,457.34 L585,456.94 L585,456.54 L585.01,456.14 L585.02,455.74 L585.02,455.34 L585.03,454.94 L585.04,454.54 L585.04,454.14 L585.05,453.74 L585.06,453.34 L585.06,452.94 L585.07,452.54 L585.08,452.14 L585.08,451.74 L585.09,451.34 L585.1,450.94 L585.1,450.54 L585.11,450.14 L585.12,449.74 L585.12,449.34 L585.13,448.94 L585.14,448.54 L585.14,448.14 L585.15,447.74 L585.16,447.34 L585.16,446.94 L585.17,446.54 L585.18,446.14 L585.18,445.74 L585.19,445.34 L585.2,444.94 L585.2,444.54 L585.21,444.14 L585.22,443.74 L585.22,443.34 L585.23,442.94 L585.24,442.54 L585.24,442.14 L585.25,441.74 L585.26,441.34 L585.26,440.94 L585.27,440.54 L585.28,440.14 L585.28,439.74 L585.29,439.34 L585.3,438.94 L585.3,438.54 L585.31,438.14 L585.32,437.74 L585.32,437.34 L585.33,436.94 L585.33,436.54 L585.34,436.14 L585.35,435.74 L585.35,435.34 L585.36,434.94 L585.37,434.54 L585.37,434.14 L585.38,433.74 L585.39,433.34 L585.39,432.94 L585.4,432.54 L585.41,432.14 L585.41,431.74 L585.42,431.34 L585.43,430.94 L585.43,430.54 L585.44,430.14 L585.45,429.74 L585.45,429.34 L585.46,428.94 L585.47,428.54 L585.47,428.14 L585.48,427.74 L585.49,427.34 L585.49,426.94 L585.5,426.54 L585.51,426.14 L585.51,425.74 L585.52,425.34 L585.53,424.94 L585.53,424.54 L585.54,424.14 L585.55,423.74 L585.55,423.34 L585.56,422.94 L585.57,422.54 L585.57,422.14 L585.58,421.74 L585.59,421.34 L585.59,420.94 L585.6,420.54 L585.61,420.14 L585.61,419.74 L585.62,419.34 L585.63,418.94 L585.63,418.54 L585.64,418.14 L585.65,417.74 L585.65,417.34 L585.66,416.94 L585.67,416.54 L585.67,416.14 L585.68,415.74 L585.69,415.34 L585.69,414.94 L585.7,414.54 L585.71,414.14 L585.71,413.74 L585.72,413.34 L585.72,412.94 L585.73,412.54 L585.74,412.14 L585.74,411.74 L585.75,411.34 L585.76,410.94 L585.76,410.54 L585.77,410.14 L585.78,409.74 L585.78,409.34 L585.79,408.94 L585.8,408.54 L585.81,408.14 L585.82,407.74 L585.83,407.34 L585.84,406.94 L585.85,406.54 L585.86,406.14 L585.87,405.74 L585.88,405.34 L585.9,404.94 L585.91,404.54 L585.92,404.14 L585.93,403.74 L585.94,403.34 L585.95,402.94 L585.96,402.54 L585.97,402.14 L585.98,401.74 L585.99,401.34 L586.01,400.95 L586.02,400.55 L586.03,400.15 L586.04,399.75 L586.05,399.35 L586.06,398.95 L586.07,398.55 L586.08,398.15 L586.09,397.75 L586.1,397.35 L586.12,396.95 L586.13,396.55 L586.14,396.15 L586.15,395.75 L586.16,395.35 L586.17,394.95 L586.18,394.55 L586.19,394.15 L586.2,393.75 L586.22,393.35 L586.23,392.95 L586.24,392.55 L586.25,392.15 L586.26,391.75 L586.27,391.35 L586.28,390.95 L586.29,390.55 L586.3,390.15 L586.31,389.75 L586.33,389.35 L586.34,388.95 L586.35,388.55 L586.36,388.15 L586.37,387.75 L586.38,387.35 L586.39,386.95 L586.4,386.55 L586.41,386.15 L586.42,385.75 L586.44,385.35 L586.45,384.95 L586.46,384.55 L586.47,384.15 L586.48,383.75 L586.49,383.35 L586.5,382.95 L586.51,382.55 L586.52,382.15 L586.54,381.75 L586.55,381.35 L586.56,380.95 L586.57,380.55 L586.58,380.15 L586.6,379.75 L586.64,379.36 L586.69,378.96 L586.76,378.57 L586.84,378.18 L586.91,377.78 L586.99,377.39 L587.06,377 L587.14,376.6 L587.22,376.21 L587.29,375.82 L587.37,375.43 L587.44,375.03 L587.52,374.65 L587.6,374.31 L587.69,374.11 L587.79,374.13 L587.9,374.35 L588.02,374.7 L588.15,375.07 L588.27,375.45 L588.39,375.83 L588.52,376.21 L588.64,376.59 L588.76,376.97 L588.87,377.36 L588.96,377.74 L589.02,378.14 L589.06,378.53 L589.09,378.93 L589.12,379.33 L589.14,379.73 L589.17,380.13 L589.2,380.53 L589.23,380.93 L589.26,381.33 L589.28,381.73 L589.31,382.12 L589.34,382.52 L589.37,382.92 L589.4,383.32 L589.43,383.72 L589.45,384.12 L589.48,384.52 L589.51,384.92 L589.54,385.32 L589.57,385.72 L589.6,386.11 L589.62,386.51 L589.65,386.91 L589.68,387.31 L589.71,387.71 L589.74,388.11 L589.77,388.51 L589.79,388.91 L589.82,389.31 L589.85,389.71 L589.88,390.1 L589.91,390.5 L589.93,390.9 L589.96,391.3 L589.99,391.7 L590.02,392.1 L590.05,392.5 L590.08,392.9 L590.1,393.3 L590.13,393.7 L590.16,394.09 L590.19,394.49 L590.22,394.89 L590.25,395.29 L590.28,395.79 L590.31,396.19 L590.34,396.59 L590.37,396.99 L590.39,397.39 L590.42,397.79 L590.45,398.18 L590.48,398.58 L590.51,398.98 L590.53,399.38 L590.56,399.78 L590.59,400.18 L590.61,400.58 L590.64,400.98 L590.66,401.38 L590.68,401.78 L590.7,402.18 L590.72,402.58 L590.74,402.98 L590.76,403.37 L590.78,403.77 L590.8,404.17 L590.82,404.57 L590.85,404.97 L590.87,405.37 L590.89,405.77 L590.91,406.17 L590.93,406.57 L590.95,406.97 L590.97,407.37 L590.99,407.77 L591.01,408.17 L591.04,408.57 L591.06,408.97 L591.08,409.37 L591.1,409.77 L591.12,410.17 L591.14,410.56 L591.16,410.96 L591.18,411.36 L591.2,411.76 L591.22,412.16 L591.25,412.56 L591.27,412.96 L591.29,413.36 L591.31,413.76 L591.33,414.16 L591.35,414.56 L591.37,414.96 L591.39,415.36 L591.41,415.76 L591.43,416.16 L591.46,416.56 L591.48,416.96 L591.5,417.36 L591.52,417.75 L591.54,418.15 L591.56,418.55 L591.58,418.95 L591.6,419.35 L591.62,419.75 L591.64,420.15 L591.67,420.55 L591.69,420.95 L591.71,421.35 L591.73,421.75 L591.75,422.15 L591.77,422.55 L591.79,422.95 L591.81,423.35 L591.83,423.75 L591.86,424.15 L591.88,424.55 L591.9,424.94 L591.92,425.34 L591.94,425.74 L591.96,426.14 L591.98,426.54 L592,426.94 L592.02,427.34 L592.04,427.74 L592.07,428.14 L592.09,428.54 L592.11,428.94 L592.13,429.34 L592.15,429.74 L592.17,430.14 L592.19,430.54 L592.21,430.94 L592.23,431.34 L592.25,431.74 L592.28,432.13 L592.3,432.53 L592.32,432.93 L592.34,433.33 L592.37,433.73 L592.39,434.13 L592.41,434.53 L592.44,434.93 L592.46,435.33 L592.48,435.73 L592.51,436.13 L592.53,436.53 L592.55,436.93 L592.58,437.33 L592.6,437.73 L592.62,438.12 L592.65,438.52 L592.67,438.92 L592.69,439.32 L592.72,439.72 L592.74,440.12 L592.76,440.52 L592.79,440.92 L592.81,441.32 L592.83,441.72 L592.86,442.12 L592.88,442.52 L592.9,442.92 L592.93,443.32 L592.95,443.72 L592.97,444.11 L593,444.51 L593.02,444.91 L593.04,445.31 L593.07,445.71 L593.09,446.11 L593.11,446.51 L593.14,446.91 L593.16,447.31 L593.18,447.71 L593.21,448.11 L593.23,448.51 L593.25,448.91 L593.28,449.31 L593.3,449.71 L593.32,450.1 L593.35,450.5 L593.37,450.9 L593.39,451.3 L593.42,451.7 L593.44,452.1 L593.46,452.5 L593.49,452.9 L593.51,453.3 L593.53,453.7 L593.56,454.1 L593.58,454.5 L593.6,454.9 L593.63,455.3 L593.65,455.69 L593.67,456.09 L593.7,456.49 L593.72,456.89 L593.74,457.29 L593.77,457.69 L593.79,458.09 L593.81,458.49 L593.84,458.89 L593.86,459.29 L593.88,459.69 L593.91,460.09 L593.94,460.49 L593.97,460.88 L594.01,461.28 L594.04,461.68 L594.07,462.08 L594.1,462.48 L594.14,462.88 L594.17,463.28 L594.2,463.68 L594.24,464.07 L594.27,464.47 L594.3,464.87 L594.33,465.27 L594.37,465.67 L594.4,466.07 L594.43,466.47 L594.47,466.86 L594.5,467.26 L594.53,467.66 L594.56,468.06 L594.6,468.46 L594.63,468.86 L594.66,469.26 L594.7,469.65 L594.73,470.05 L594.76,470.45 L594.79,470.85 L594.83,471.25 L594.86,471.65 L594.89,472.05 L594.93,472.45 L594.96,472.84 L594.99,473.24 L595.03,473.64 L595.06,474.04 L595.09,474.44 L595.12,474.84 L595.16,475.24 L595.19,475.63 L595.22,476.03 L595.26,476.43 L595.29,476.83 L595.32,477.23 L595.35,477.63 L595.39,478.03 L595.42,478.42 L595.46,478.82 L595.51,479.22 L595.59,479.61 L595.68,479.99 L595.79,480.38 L595.91,480.76 L596.02,481.14 L596.14,481.53 L596.25,481.91 L596.37,482.29 L596.48,482.68 L596.6,483.06 L596.71,483.44 L596.83,483.83 L596.94,484.21 L597.06,484.59 L597.17,484.98 L597.29,485.36 L597.4,485.74 L597.52,486.13 L597.64,486.51 L597.77,486.88 L597.94,487.21 L598.18,487.5 L598.49,487.74 L598.82,487.95 L599.16,488.16 L599.5,488.36 L599.85,488.57 L600.19,488.77 L600.53,488.98 L600.88,489.18 L601.22,489.39 L601.57,489.59 L601.92,489.77 L602.28,489.94 L602.65,490.09 L603.02,490.23 L603.4,490.38 L603.77,490.52 L604.14,490.66 L604.52,490.81 L604.89,490.95 L605.26,491.09 L605.64,491.24 L606.01,491.38 L606.38,491.52 L606.76,491.67 L607.13,491.81 L607.5,491.95 L607.88,492.09 L608.26,492.2 L608.65,492.28 L609.04,492.32 L609.44,492.35 L609.84,492.37 L610.24,492.39 L610.64,492.4 L611.04,492.42 L611.44,492.44 L611.84,492.46 L612.24,492.48 L612.64,492.5 L613.04,492.52 L613.44,492.54 L613.83,492.55 L614.23,492.57 L614.63,492.56 L615.03,492.53 L615.42,492.46 L615.81,492.39 L616.2,492.3 L616.59,492.22 L616.99,492.14 L617.38,492.05 L617.77,491.97 L618.16,491.89 L618.55,491.81 L618.94,491.72 L619.33,491.64 L619.72,491.55 L620.11,491.46 L620.5,491.36 L620.89,491.26 L621.27,491.16 L621.66,491.06 L622.05,490.95 L622.43,490.85 L622.82,490.75 L623.21,490.65 L623.59,490.54 L623.98,490.45 L624.37,490.4 L624.76,490.39 L625.15,490.43 L625.54,490.49 L625.94,490.57 L626.33,490.64 L626.72,490.71 L627.12,490.78 L627.51,490.86 L627.9,490.93 L628.3,491 L628.69,491.07 L629.08,491.15 L629.48,491.22 L629.87,491.29 L630.26,491.36 L630.66,491.44 L631.05,491.51 L631.44,491.59 L631.83,491.67 L632.23,491.75 L632.62,491.82 L633.01,491.9 L633.4,491.98 L633.8,492.06 L634.28,492.14 L634.63,492.15 L634.91,492.04 L635.12,491.8 L635.27,491.46 L635.39,491.09 L635.52,490.71 L635.64,490.33 L635.77,489.95 L635.89,489.57 L636.02,489.19 L636.14,488.81 L636.26,488.43 L636.39,488.05 L636.51,487.67 L636.63,487.29 L636.75,486.91 L636.87,486.52 L636.99,486.14 L637.11,485.76 L637.22,485.38 L637.34,484.99 L637.46,484.61 L637.58,484.23 L637.7,483.85 L637.81,483.47 L637.93,483.08 L638.05,482.7 L638.17,482.32 L638.29,481.94 L638.41,481.56 L638.52,481.22 L638.64,481.01 L638.76,481.01 L638.88,481.23 L638.99,481.56 L639.11,481.94 L639.23,482.32 L639.34,482.7 L639.46,483.09 L639.58,483.47 L639.68,483.85 L639.78,484.24 L639.86,484.63 L639.93,485.03 L640,485.42 L640.06,485.82 L640.13,486.21 L640.19,486.61 L640.25,487 L640.32,487.39 L640.38,487.79 L640.45,488.18 L640.51,488.58 L640.57,488.97 L640.64,489.37 L640.7,489.76 L640.76,490.16 L640.83,490.55 L640.89,490.95 L640.96,491.34 L641.02,491.74 L641.08,492.13 L641.15,492.53 L641.21,492.92 L641.28,493.32 L641.34,493.71 L641.43,494.08 L641.56,494.4 L641.79,494.63 L642.12,494.75 L642.5,494.82 L642.89,494.87 L643.29,494.92 L643.68,494.97 L644.08,495.02 L644.47,495.07 L644.86,495.1 L645.21,495.06 L645.49,494.91 L645.71,494.65 L645.88,494.31 L646.04,493.94 L646.2,493.58 L646.36,493.21 L646.52,492.84 L646.68,492.48 L646.84,492.11 L647.02,491.75 L647.21,491.41 L647.43,491.08 L647.67,490.76 L647.91,490.45 L648.16,490.21 L648.43,490.09 L648.7,490.15 L649,490.35 L649.29,490.6 L649.59,490.86 L649.9,491.12 L650.22,491.33 L650.57,491.49 L650.94,491.6 L651.33,491.68 L651.73,491.75 L652.12,491.82 L652.51,491.89 L652.91,491.96 L653.3,492.03 L653.7,492.1 L654.09,492.17 L654.48,492.24 L654.88,492.31 L655.27,492.38 L655.66,492.45 L656.06,492.52 L656.45,492.59 L656.85,492.66 L657.24,492.73 L657.63,492.8 L658.03,492.87 L658.42,492.94 L658.81,493.01 L659.21,493.08 L659.6,493.15 L660,493.22 L660.39,493.29 L660.78,493.35 L661.18,493.41 L661.58,493.46 L661.98,493.5 L662.37,493.54 L662.77,493.58 L663.17,493.62 L663.57,493.66 L663.97,493.7 L664.36,493.74 L664.76,493.78 L665.16,493.82 L665.56,493.86 L665.96,493.9 L666.35,493.94 L666.75,493.98 L667.15,494.01 L667.55,494.05 L667.95,494.06 L668.34,494.06 L668.74,494.03 L669.14,494 L669.54,493.97 L669.94,493.94 L670.34,493.9 L670.74,493.87 L671.13,493.84 L671.53,493.8 L671.93,493.77 L672.33,493.73 L672.73,493.7 L673.13,493.67 L673.53,493.63 L673.92,493.6 L674.32,493.57 L674.72,493.53 L675.12,493.5 L675.52,493.47 L675.92,493.44 L676.32,493.42 L676.72,493.41 L677.12,493.41 L677.52,493.41 L677.92,493.42 L678.32,493.42 L678.72,493.43 L679.12,493.43 L679.52,493.44 L679.92,493.44 L680.32,493.45 L680.72,493.45 L681.12,493.46 L681.52,493.46 L681.92,493.47 L682.32,493.47 L682.72,493.48 L683.12,493.48 L683.52,493.49 L683.92,493.49 L684.31,493.48 L684.71,493.45 L685.1,493.38 L685.49,493.29 L685.88,493.19 L686.26,493.09 L686.65,492.99 L687.04,492.89 L687.42,492.79 L687.81,492.69 L688.2,492.59 L688.58,492.53 L688.97,492.52 L689.35,492.58 L689.73,492.68 L690.11,492.8 L690.48,492.94 L690.84,493.1 L691.18,493.3 L691.5,493.54 L691.8,493.79 L692.11,494.05 L692.41,494.31 L692.72,494.57 L693.02,494.83 L693.33,495.08 L693.65,495.29 L694,495.43 L694.38,495.5 L694.77,495.53 L695.17,495.54 L695.57,495.56 L695.97,495.57 L696.37,495.58 L696.77,495.6 L697.17,495.61 L697.57,495.62 L697.97,495.63 L698.37,495.65 L698.77,495.66 L699.17,495.67 L699.57,495.68 L699.97,495.69 L700.37,495.7 L700.77,495.7 L701.17,495.7 L701.57,495.7 L701.97,495.7 L702.37,495.7 L702.77,495.7 L703.17,495.7 L703.57,495.7 L703.97,495.7 L704.37,495.7 L704.77,495.7 L705.17,495.7 L705.57,495.7 L705.97,495.7 L706.37,495.7 L706.77,495.7 L707.17,495.7 L707.57,495.7 L707.97,495.7 L708.37,495.7 L708.77,495.7 L709.17,495.7 L709.57,495.7 L709.97,495.7 L710.37,495.7 L710.77,495.7 L711.17,495.7 L711.57,495.7 L711.97,495.7 L712.37,495.7 L712.77,495.7 L713.17,495.7 L713.57,495.7 L713.97,495.7 L714.37,495.7 L714.77,495.7 L715.17,495.7 L715.57,495.7 L715.97,495.7 L716.37,495.7 L716.77,495.7 L717.17,495.7 L717.57,495.7 L717.97,495.7 L718.37,495.7 L718.77,495.7 L719.17,495.7 L719.57,495.7 L719.97,495.7 L720.37,495.7 L720.77,495.7 L721.17,495.7 L721.57,495.7 L721.97,495.7 L722.37,495.7 L722.77,495.7 L723.17,495.7 L723.57,495.7 L723.97,495.7 L724.37,495.7 L724.77,495.7 L725.17,495.7 L725.57,495.7 L725.97,495.7 L726.37,495.7 L726.77,495.7 L727.17,495.7 L727.57,495.7 L727.97,495.7 L728.37,495.7 L728.77,495.7 L729.17,495.7 L729.57,495.7 L729.97,495.7 L730.37,495.7 L730.77,495.7 L731.17,495.7 L731.57,495.7 L731.97,495.7 L732.37,495.7 L732.77,495.7 L733.17,495.7 L733.57,495.7 L733.97,495.7 L734.37,495.7 L734.77,495.7 L735.17,495.7 L735.57,495.7 L735.97,495.7 L736.37,495.7 L736.77,495.7 L737.17,495.7 L737.56,495.7 L737.93,495.7 L738.27,495.7" fill="none" stroke="#ff7474" stroke-width="1.25" stroke-linejoin="round"/>
<text x="587.9" y="371" font-size="5.4" fill="#333" text-anchor="middle">2.67</text>
<text x="638.7" y="478.5" font-size="5.4" fill="#333" text-anchor="middle">3.80</text>
<text x="648.4" y="488.6" font-size="5.4" fill="#333" text-anchor="middle">4.01</text>
<line x1="465.5" y1="533.4" x2="465.5" y2="702.8" stroke="#3c3c3c" stroke-width="1.4"/>
<line x1="465" y1="702.3" x2="731" y2="702.3" stroke="#3c3c3c" stroke-width="1.4"/>
<line x1="461.9" y1="702.3" x2="465.5" y2="702.3" stroke="#3c3c3c" stroke-width="0.7"/>
<line x1="463.1" y1="692.71" x2="465.5" y2="692.71" stroke="#3c3c3c" stroke-width="0.7"/>
<line x1="463.1" y1="683.12" x2="465.5" y2="683.12" stroke="#3c3c3c" stroke-width="0.7"/>
<line x1="463.1" y1="673.54" x2="465.5" y2="673.54" stroke="#3c3c3c" stroke-width="0.7"/>
<line x1="461.9" y1="663.95" x2="465.5" y2="663.95" stroke="#3c3c3c" stroke-width="0.7"/>
<line x1="463.1" y1="654.36" x2="465.5" y2="654.36" stroke="#3c3c3c" stroke-width="0.7"/>
<line x1="463.1" y1="644.77" x2="465.5" y2="644.77" stroke="#3c3c3c" stroke-width="0.7"/>
<line x1="463.1" y1="635.19" x2="465.5" y2="635.19" stroke="#3c3c3c" stroke-width="0.7"/>
<line x1="461.9" y1="625.6" x2="465.5" y2="625.6" stroke="#3c3c3c" stroke-width="0.7"/>
<line x1="463.1" y1="616.01" x2="465.5" y2="616.01" stroke="#3c3c3c" stroke-width="0.7"/>
<line x1="463.1" y1="606.42" x2="465.5" y2="606.42" stroke="#3c3c3c" stroke-width="0.7"/>
<line x1="463.1" y1="596.84" x2="465.5" y2="596.84" stroke="#3c3c3c" stroke-width="0.7"/>
<line x1="461.9" y1="587.25" x2="465.5" y2="587.25" stroke="#3c3c3c" stroke-width="0.7"/>
<line x1="463.1" y1="577.66" x2="465.5" y2="577.66" stroke="#3c3c3c" stroke-width="0.7"/>
<line x1="463.1" y1="568.07" x2="465.5" y2="568.07" stroke="#3c3c3c" stroke-width="0.7"/>
<line x1="463.1" y1="558.49" x2="465.5" y2="558.49" stroke="#3c3c3c" stroke-width="0.7"/>
<line x1="461.9" y1="548.9" x2="465.5" y2="548.9" stroke="#3c3c3c" stroke-width="0.7"/>
<line x1="463.1" y1="539.31" x2="465.5" y2="539.31" stroke="#3c3c3c" stroke-width="0.7"/>
<text x="460.2" y="705.1" font-size="8" fill="#444" text-anchor="end" stroke="#444" stroke-width="0.15">0</text>
<text x="460.2" y="666.75" font-size="8" fill="#444" text-anchor="end" stroke="#444" stroke-width="0.15">20000</text>
<text x="460.2" y="628.4" font-size="8" fill="#444" text-anchor="end" stroke="#444" stroke-width="0.15">40000</text>
<text x="460.2" y="590.05" font-size="8" fill="#444" text-anchor="end" stroke="#444" stroke-width="0.15">60000</text>
<text x="460.2" y="551.7" font-size="8" fill="#444" text-anchor="end" stroke="#444" stroke-width="0.15">80000</text>
<line x1="469.85" y1="702.3" x2="469.85" y2="704.1" stroke="#3c3c3c" stroke-width="0.7"/>
<line x1="482.3" y1="702.3" x2="482.3" y2="705.1" stroke="#3c3c3c" stroke-width="0.7"/>
<line x1="494.75" y1="702.3" x2="494.75" y2="704.1" stroke="#3c3c3c" stroke-width="0.7"/>
<line x1="507.2" y1="702.3" x2="507.2" y2="704.1" stroke="#3c3c3c" stroke-width="0.7"/>
<line x1="519.65" y1="702.3" x2="519.65" y2="704.1" stroke="#3c3c3c" stroke-width="0.7"/>
<line x1="532.1" y1="702.3" x2="532.1" y2="705.1" stroke="#3c3c3c" stroke-width="0.7"/>
<line x1="544.55" y1="702.3" x2="544.55" y2="704.1" stroke="#3c3c3c" stroke-width="0.7"/>
<line x1="557" y1="702.3" x2="557" y2="704.1" stroke="#3c3c3c" stroke-width="0.7"/>
<line x1="569.45" y1="702.3" x2="569.45" y2="704.1" stroke="#3c3c3c" stroke-width="0.7"/>
<line x1="581.9" y1="702.3" x2="581.9" y2="705.1" stroke="#3c3c3c" stroke-width="0.7"/>
<line x1="594.35" y1="702.3" x2="594.35" y2="704.1" stroke="#3c3c3c" stroke-width="0.7"/>
<line x1="606.8" y1="702.3" x2="606.8" y2="704.1" stroke="#3c3c3c" stroke-width="0.7"/>
<line x1="619.25" y1="702.3" x2="619.25" y2="704.1" stroke="#3c3c3c" stroke-width="0.7"/>
<line x1="631.7" y1="702.3" x2="631.7" y2="705.1" stroke="#3c3c3c" stroke-width="0.7"/>
<line x1="644.15" y1="702.3" x2="644.15" y2="704.1" stroke="#3c3c3c" stroke-width="0.7"/>
<line x1="656.6" y1="702.3" x2="656.6" y2="704.1" stroke="#3c3c3c" stroke-width="0.7"/>
<line x1="669.05" y1="702.3" x2="669.05" y2="704.1" stroke="#3c3c3c" stroke-width="0.7"/>
<line x1="681.5" y1="702.3" x2="681.5" y2="705.1" stroke="#3c3c3c" stroke-width="0.7"/>
<line x1="693.95" y1="702.3" x2="693.95" y2="704.1" stroke="#3c3c3c" stroke-width="0.7"/>
<line x1="706.4" y1="702.3" x2="706.4" y2="704.1" stroke="#3c3c3c" stroke-width="0.7"/>
<line x1="718.85" y1="702.3" x2="718.85" y2="704.1" stroke="#3c3c3c" stroke-width="0.7"/>
<text x="482.7" y="714.3" font-size="8" fill="#444" text-anchor="middle" stroke="#444" stroke-width="0.15">1000</text>
<text x="532.5" y="714.3" font-size="8" fill="#444" text-anchor="middle" stroke="#444" stroke-width="0.15">1200</text>
<text x="582.3" y="714.3" font-size="8" fill="#444" text-anchor="middle" stroke="#444" stroke-width="0.15">1400</text>
<text x="632.1" y="714.3" font-size="8" fill="#444" text-anchor="middle" stroke="#444" stroke-width="0.15">1600</text>
<text x="681.9" y="714.3" font-size="8" fill="#444" text-anchor="middle" stroke="#444" stroke-width="0.15">1800</text>
<text x="599" y="725.8" font-size="8" fill="#44445a" text-anchor="middle" textLength="79.3" lengthAdjust="spacingAndGlyphs" stroke="#44445a" stroke-width="0.12">Observed mass [m/z]</text>
<text transform="translate(431.6,617.5) rotate(-90)" font-size="7.6" fill="#4e3e4e" stroke="#4e3e4e" stroke-width="0.12" text-anchor="middle" textLength="55" lengthAdjust="spacingAndGlyphs">Intensity [Counts]</text>
<text x="743.2" y="532.9" font-size="8" fill="#333" text-anchor="end" textLength="24.2" lengthAdjust="spacingAndGlyphs" stroke="#333" stroke-width="0.2">8.77e4</text>
<path d="M470.5,702 L470.5,699 M476.5,702 L476.5,696 M478.5,702 L478.5,691 M482.5,702 L482.5,691 M487.5,702 L487.5,685.7 M493.5,702 L493.5,674.4 M500.5,702 L500.5,660 M506.5,702 L506.5,643.8 M513.5,702 L513.5,620.1 M521.5,702 L521.5,599.7 M528.5,702 L528.5,573.4 M536.5,702 L536.5,556.7 M545.5,702 L545.5,544.9 M554.5,702 L554.5,537.4 M564.5,702 L564.5,541.9 M574.5,702 L574.5,555.6 M586.5,702 L586.5,575 M597.5,702 L597.5,600.8 M610.5,702 L610.5,624.2 M623.5,702 L623.5,642.7 M638.5,702 L638.5,657.8 M653.5,702 L653.5,667.6 M670.5,702 L670.5,678.3 M688.5,702 L688.5,688.7 M708.5,702 L708.5,694.9" stroke="#1e1e1e" stroke-width="1.05" fill="none"/>
<path d="M477.8,702 L477.9,700.68 L478.9,700.68 L480.5,702 Z M481.5,702 L481.6,700.68 L482.6,700.68 L484.2,702 Z M487.1,702 L487.2,700.04 L488.2,700.04 L489.8,702 Z M493.2,702 L493.3,698.69 L494.3,698.69 L495.9,702 Z M499.8,702 L499.9,696.96 L500.9,696.96 L502.5,702 Z M506,702 L506.1,695.02 L507.1,695.02 L508.7,702 Z M513.2,702 L513.3,695 L514.3,693 L515.9,702 Z M520.7,702 L520.8,695 L521.8,693 L523.4,702 Z M528.2,702 L528.3,695 L529.3,693 L530.9,702 Z M536.5,702 L536.6,695 L537.6,693 L539.2,702 Z M545.2,702 L545.3,695 L546.3,693 L547.9,702 Z M554.3,702 L554.4,695 L555.4,693 L557,702 Z M564.1,702 L564.2,695 L565.2,693 L566.8,702 Z M574.2,702 L574.3,695 L575.3,693 L576.9,702 Z M585.5,702 L585.6,695 L586.6,693 L588.2,702 Z M597.2,702 L597.3,695 L598.3,693 L599.9,702 Z M610,702 L610.1,695 L611.1,693 L612.7,702 Z M622.9,702 L623,695 L624,694.88 L625.6,702 Z M637.5,702 L637.6,696.7 L638.6,696.7 L640.2,702 Z M653.3,702 L653.4,697.87 L654.4,697.87 L656,702 Z M670.1,702 L670.2,699.16 L671.2,699.16 L672.8,702 Z M688.2,702 L688.3,700.4 L689.3,700.4 L690.9,702 Z" fill="#222"/>
<path d="M466.5,701.86 L467.2,701.16 L467.9,701.64 L468.6,700.94 L469.3,700.86 L470,701.99 L470.7,702 L471.4,699.83 L472.1,701.84 L472.8,701.87 L473.5,698.83 L474.2,701.39 L474.9,699.84 L475.6,701.37 L476.3,700.81 L477,701.95 L477.7,700.82 L478.4,699.66 L479.1,701.23 L479.8,700.34 L480.5,700.67 L481.2,701.99 L481.9,700.26 L482.6,700.99 L483.3,701.77 L484,702 L484.7,699.67 L485.4,701.38 L486.1,700.45 L486.8,699.59 L487.5,700.47 L488.2,699.33 L488.9,701.59 L489.6,700.04 L490.3,701.46 L491,699.24 L491.7,699.59 L492.4,701.98 L493.1,701.96 L493.8,701.89 L494.5,699.04 L495.2,701.48 L495.9,700.86 L496.6,701.77 L497.3,701.28 L498,701.61 L498.7,701.68 L499.4,701.02 L500.1,701.02 L500.8,699.44 L501.5,700.62 L502.2,699.28 L502.9,699.72 L503.6,698.86 L504.3,700.67 L505,701.94 L505.7,699.7 L506.4,699.04 L507.1,699.43 L507.8,701.07 L508.5,700.48 L509.2,701.9 L509.9,699.87 L510.6,701.06 L511.3,701.8 L512,701.99 L512.7,699.74 L513.4,698.87 L514.1,701.98 L514.8,700.04 L515.5,701.55 L516.2,701.95 L516.9,701.78 L517.6,700.21 L518.3,699.63 L519,702 L519.7,700.9 L520.4,701.99 L521.1,699.22 L521.8,701.49 L522.5,697.64 L523.2,696.48 L523.9,700.72 L524.6,696.26 L525.3,701.56 L526,701.98 L526.7,700.13 L527.4,702 L528.1,701.84 L528.8,701.2 L529.5,700.06 L530.2,701.9 L530.9,701.99 L531.6,697.78 L532.3,701.55 L533,696.75 L533.7,697.47 L534.4,701.32 L535.1,700.95 L535.8,700.63 L536.5,699.81 L537.2,700.16 L537.9,700.4 L538.6,699.99 L539.3,696.97 L540,700.71 L540.7,701.09 L541.4,699.2 L542.1,701.76 L542.8,701.59 L543.5,696.52 L544.2,700.63 L544.9,700.46 L545.6,702 L546.3,701.17 L547,700.26 L547.7,702 L548.4,700.02 L549.1,699.9 L549.8,701.99 L550.5,699.93 L551.2,700.93 L551.9,699.54 L552.6,701.42 L553.3,699.31 L554,699.05 L554.7,702 L555.4,701.99 L556.1,699.57 L556.8,696.69 L557.5,701.72 L558.2,700.97 L558.9,700.18 L559.6,701.53 L560.3,701.38 L561,701.55 L561.7,701.36 L562.4,700.16 L563.1,701.59 L563.8,701.33 L564.5,698.74 L565.2,702 L565.9,700.33 L566.6,699.07 L567.3,701.56 L568,701.79 L568.7,698.44 L569.4,701.75 L570.1,701.86 L570.8,701.08 L571.5,699.39 L572.2,701.96 L572.9,701.52 L573.6,701.48 L574.3,698.14 L575,701.06 L575.7,697.91 L576.4,701.88 L577.1,701.47 L577.8,699.77 L578.5,697.6 L579.2,701 L579.9,701.78 L580.6,701.94 L581.3,700.58 L582,701.85 L582.7,698.41 L583.4,698.09 L584.1,701.86 L584.8,701.65 L585.5,698.4 L586.2,699.83 L586.9,698.41 L587.6,701.44 L588.3,701.94 L589,701.62 L589.7,698.53 L590.4,701.67 L591.1,701.44 L591.8,701.16 L592.5,701.15 L593.2,701.19 L593.9,697.2 L594.6,701.9 L595.3,702 L596,696.93 L596.7,697.65 L597.4,696.4 L598.1,701.08 L598.8,696.85 L599.5,697.12 L600.2,701.88 L600.9,700.32 L601.6,699.84 L602.3,700.7 L603,701.24 L603.7,701.79 L604.4,701.7 L605.1,701.88 L605.8,701.99 L606.5,701 L607.2,701.79 L607.9,699.99 L608.6,702 L609.3,699.44 L610,700.57 L610.7,699.31 L611.4,699.48 L612.1,699.46 L612.8,701.05 L613.5,702 L614.2,700.32 L614.9,701.93 L615.6,701.77 L616.3,700.7 L617,701.22 L617.7,701.54 L618.4,699.21 L619.1,700.91 L619.8,701.7 L620.5,701.85 L621.2,699.69 L621.9,701.37 L622.6,700.14 L623.3,701.68 L624,701.91 L624.7,701.19 L625.4,699.95 L626.1,701.93 L626.8,700.09 L627.5,699.33 L628.2,700.01 L628.9,699.91 L629.6,702 L630.3,700.85 L631,699.69 L631.7,702 L632.4,701.82 L633.1,701.82 L633.8,701.22 L634.5,701.52 L635.2,701.38 L635.9,700.17 L636.6,702 L637.3,701.99 L638,701.97 L638.7,701.97 L639.4,701.99 L640.1,698.98 L640.8,699.74 L641.5,701.99 L642.2,701.3 L642.9,701.75 L643.6,701.75 L644.3,701.68 L645,700.77 L645.7,701.01 L646.4,701.66 L647.1,701.92 L647.8,701.72 L648.5,701.97 L649.2,701.12 L649.9,700.47 L650.6,701.62 L651.3,701.99 L652,701.93 L652.7,701.63 L653.4,700.94 L654.1,700.13 L654.8,701.62 L655.5,700.04 L656.2,700.87 L656.9,701.5 L657.6,701.64 L658.3,701.32 L659,700.53 L659.7,701.52 L660.4,700.57 L661.1,701.42 L661.8,701.85 L662.5,701.19 L663.2,700.56 L663.9,701.99 L664.6,701.51 L665.3,701.51 L666,699.59 L666.7,699.23 L667.4,701.63 L668.1,699.48 L668.8,700.09 L669.5,701.83 L670.2,701.41 L670.9,701.97 L671.6,699.97 L672.3,700.71 L673,699.54 L673.7,700.08 L674.4,700.68 L675.1,700.38 L675.8,701.09 L676.5,701.98 L677.2,701.01 L677.9,702 L678.6,701.96 L679.3,700.18 L680,702 L680.7,701.98 L681.4,701.98 L682.1,699.58 L682.8,701.93 L683.5,702 L684.2,699.81 L684.9,701.97 L685.6,699.8 L686.3,700.66 L687,699.84 L687.7,699.13 L688.4,701.04 L689.1,700.05 L689.8,702 L690.5,700.21 L691.2,701.27 L691.9,700.47 L692.6,701.98 L693.3,700.31 L694,699.24 L694.7,701.99 L695.4,701.73 L696.1,701.09 L696.8,699.89 L697.5,701.86 L698.2,701.93 L698.9,701.85 L699.6,700.9 L700.3,700.28 L701,701.59 L701.7,701.65 L702.4,701.58 L703.1,701.68 L703.8,701.53 L704.5,701.99 L705.2,701.3 L705.9,698.99 L706.6,701.54 L707.3,700.31 L708,701.94 L708.7,700.58 L709.4,700.27 L710.1,700.66 L710.8,701.25 L711.5,701.35 L712.2,700.79 L712.9,699.48 L713.6,701.95 L714.3,701.98 L715,700.31 L715.7,699.36 L716.4,701.25 L717.1,701.47 L717.8,700.45 L718.5,701.92 L719.2,701.82 L719.9,701.91 L720.6,701.01 L721.3,701.75 L722,701.87 L722.7,700.58 L723.4,699.12 L724.1,701.78 L724.8,700.52 L725.5,701.54 L726.2,699.74 L726.9,701.02 L727.6,701.82 L728.3,701.89 L729,702 L729.7,701.36" stroke="#222" stroke-width="0.6" fill="none"/>
<path d="M466,701.4 L730,701.4" stroke="#222" stroke-width="1.3"/>
<text x="468.4" y="688.1" font-size="8" fill="#383848" text-anchor="start" textLength="18.1" lengthAdjust="spacingAndGlyphs" stroke="#383848" stroke-width="0.24">1043</text>
<text x="475" y="676.7" font-size="8" fill="#383848" text-anchor="start" textLength="17.3" lengthAdjust="spacingAndGlyphs" stroke="#383848" stroke-width="0.24">1068</text>
<text x="481.5" y="664.8" font-size="8" fill="#383848" text-anchor="start" textLength="17.2" lengthAdjust="spacingAndGlyphs" stroke="#383848" stroke-width="0.24">1095</text>
<text x="481.5" y="655.2" font-size="8" fill="#383848" text-anchor="start" textLength="17.2" lengthAdjust="spacingAndGlyphs" stroke="#383848" stroke-width="0.24">1095</text>
<text x="488.5" y="644.8" font-size="8" fill="#383848" text-anchor="start" textLength="17.5" lengthAdjust="spacingAndGlyphs" stroke="#383848" stroke-width="0.24">1123</text>
<text x="488.5" y="632.3" font-size="8" fill="#383848" text-anchor="start" textLength="17.5" lengthAdjust="spacingAndGlyphs" stroke="#383848" stroke-width="0.24">1123</text>
<text x="494.6" y="621.5" font-size="8" fill="#383848" text-anchor="start" textLength="18.1" lengthAdjust="spacingAndGlyphs" stroke="#383848" stroke-width="0.24">1153</text>
<text x="495.9" y="609.9" font-size="8" fill="#383848" text-anchor="start" textLength="17.5" lengthAdjust="spacingAndGlyphs" stroke="#383848" stroke-width="0.24">1153</text>
<text x="503.4" y="598.2" font-size="8" fill="#383848" text-anchor="start" textLength="17.8" lengthAdjust="spacingAndGlyphs" stroke="#383848" stroke-width="0.24">1184</text>
<text x="503.4" y="586.4" font-size="8" fill="#383848" text-anchor="start" textLength="17.8" lengthAdjust="spacingAndGlyphs" stroke="#383848" stroke-width="0.24">1184</text>
<text x="503.4" y="576.4" font-size="8" fill="#383848" text-anchor="start" textLength="17.8" lengthAdjust="spacingAndGlyphs" stroke="#383848" stroke-width="0.24">1184</text>
<text x="512" y="567" font-size="8" fill="#383848" text-anchor="start" textLength="17.2" lengthAdjust="spacingAndGlyphs" stroke="#383848" stroke-width="0.24">1217</text>
<text x="518" y="556.8" font-size="8" fill="#383848" text-anchor="start" textLength="17.2" lengthAdjust="spacingAndGlyphs" stroke="#383848" stroke-width="0.24">1251</text>
<text x="526.6" y="546.1" font-size="8" fill="#383848" text-anchor="start" textLength="17.2" lengthAdjust="spacingAndGlyphs" stroke="#383848" stroke-width="0.24">1288</text>
<text x="546.5" y="534.8" font-size="8" fill="#383848" text-anchor="start" textLength="17.7" lengthAdjust="spacingAndGlyphs" stroke="#383848" stroke-width="0.24">1288</text>
<text x="565.2" y="534.3" font-size="8" fill="#383848" text-anchor="start" textLength="17.8" lengthAdjust="spacingAndGlyphs" stroke="#383848" stroke-width="0.24">1327</text>
<text x="576.5" y="554.1" font-size="8" fill="#383848" text-anchor="start" textLength="17.7" lengthAdjust="spacingAndGlyphs" stroke="#383848" stroke-width="0.24">1327</text>
<text x="582.4" y="564.4" font-size="8" fill="#383848" text-anchor="start" textLength="17.8" lengthAdjust="spacingAndGlyphs" stroke="#383848" stroke-width="0.24">1369</text>
<text x="588.3" y="575.1" font-size="8" fill="#383848" text-anchor="start" textLength="17.2" lengthAdjust="spacingAndGlyphs" stroke="#383848" stroke-width="0.24">1369</text>
<text x="593.7" y="588.6" font-size="8" fill="#383848" text-anchor="start" textLength="17.8" lengthAdjust="spacingAndGlyphs" stroke="#383848" stroke-width="0.24">1413</text>
<text x="588.8" y="598.7" font-size="8" fill="#383848" text-anchor="start" textLength="17.7" lengthAdjust="spacingAndGlyphs" stroke="#383848" stroke-width="0.24">1460</text>
<text x="604.9" y="609.5" font-size="8" fill="#383848" text-anchor="start" textLength="18.3" lengthAdjust="spacingAndGlyphs" stroke="#383848" stroke-width="0.24">1460</text>
<text x="604.9" y="619.1" font-size="8" fill="#383848" text-anchor="start" textLength="18.3" lengthAdjust="spacingAndGlyphs" stroke="#383848" stroke-width="0.24">1460</text>
<text x="617.8" y="631.5" font-size="8" fill="#383848" text-anchor="start" textLength="17.7" lengthAdjust="spacingAndGlyphs" stroke="#383848" stroke-width="0.24">1510</text>
<text x="625.9" y="645" font-size="8" fill="#383848" text-anchor="start" textLength="17.7" lengthAdjust="spacingAndGlyphs" stroke="#383848" stroke-width="0.24">1510</text>
<text x="640.4" y="658.6" font-size="8" fill="#383848" text-anchor="start" textLength="17.2" lengthAdjust="spacingAndGlyphs" stroke="#383848" stroke-width="0.24">1564</text>
<text x="655.3" y="668.1" font-size="8" fill="#383848" text-anchor="start" textLength="18.4" lengthAdjust="spacingAndGlyphs" stroke="#383848" stroke-width="0.24">1622</text>
<text x="672.1" y="678.3" font-size="8" fill="#383848" text-anchor="start" textLength="18.4" lengthAdjust="spacingAndGlyphs" stroke="#383848" stroke-width="0.24">1684</text>
<text x="690.5" y="688" font-size="8" fill="#383848" text-anchor="start" textLength="17.6" lengthAdjust="spacingAndGlyphs" stroke="#383848" stroke-width="0.24">1752</text>
<text x="710.4" y="696.7" font-size="8" fill="#383848" text-anchor="start" textLength="17.7" lengthAdjust="spacingAndGlyphs" stroke="#383848" stroke-width="0.24">1824</text>
<path d="M486.9,681.4 L492.3,680 M493.9,670.6 L498.2,669 M499.8,659.4 L504.6,658.1 M500.3,649.5 L504.6,647.7 M506.7,638.2 L512,636.9 M507.4,626.1 L512,624.5 M512.7,615.1 L519.5,613.4 M514.1,604 L520,602 M522.3,592.5 L527.1,590.4 M522.3,580.6 L527.1,578.8 M522.3,573 L527.1,573 M530.3,561.3 L536.2,559.4 M536.2,550.8 L544.8,549.2 M545.4,542.4 L552.9,542.4 M567.4,537.4 L565.6,540.8 M566.8,550.8 L574.9,550.8 M576.5,556.7 L580.8,558.9 M577,567.5 L586.7,569.1 M587.8,580.9 L592.6,583.1 M597.9,601.6 L603.8,603.4 M599.5,612 L603.8,613.7 M611.9,624.4 L616.7,626 M612.4,636.8 L624.2,638.9 M625.3,651.1 L638.8,653.4 M640.4,660.4 L654.4,662.9 M655.3,670.3 L671.4,672.6 M672.1,680.1 L689,682.6 M689.8,688.7 L708.9,690.9" stroke="#3a3a3a" stroke-width="1" fill="none"/>
<line x1="465.4" y1="742.1" x2="465.4" y2="912.8" stroke="#3c3c3c" stroke-width="1.4"/>
<line x1="465" y1="912.3" x2="730.7" y2="912.3" stroke="#3c3c3c" stroke-width="1.4"/>
<line x1="461.8" y1="912.3" x2="465.4" y2="912.3" stroke="#3c3c3c" stroke-width="0.7"/>
<line x1="463" y1="905.04" x2="465.4" y2="905.04" stroke="#3c3c3c" stroke-width="0.7"/>
<line x1="463" y1="897.78" x2="465.4" y2="897.78" stroke="#3c3c3c" stroke-width="0.7"/>
<line x1="463" y1="890.52" x2="465.4" y2="890.52" stroke="#3c3c3c" stroke-width="0.7"/>
<line x1="463" y1="883.26" x2="465.4" y2="883.26" stroke="#3c3c3c" stroke-width="0.7"/>
<line x1="461.8" y1="876" x2="465.4" y2="876" stroke="#3c3c3c" stroke-width="0.7"/>
<line x1="463" y1="868.74" x2="465.4" y2="868.74" stroke="#3c3c3c" stroke-width="0.7"/>
<line x1="463" y1="861.48" x2="465.4" y2="861.48" stroke="#3c3c3c" stroke-width="0.7"/>
<line x1="463" y1="854.22" x2="465.4" y2="854.22" stroke="#3c3c3c" stroke-width="0.7"/>
<line x1="463" y1="846.96" x2="465.4" y2="846.96" stroke="#3c3c3c" stroke-width="0.7"/>
<line x1="461.8" y1="839.7" x2="465.4" y2="839.7" stroke="#3c3c3c" stroke-width="0.7"/>
<line x1="463" y1="832.44" x2="465.4" y2="832.44" stroke="#3c3c3c" stroke-width="0.7"/>
<line x1="463" y1="825.18" x2="465.4" y2="825.18" stroke="#3c3c3c" stroke-width="0.7"/>
<line x1="463" y1="817.92" x2="465.4" y2="817.92" stroke="#3c3c3c" stroke-width="0.7"/>
<line x1="463" y1="810.66" x2="465.4" y2="810.66" stroke="#3c3c3c" stroke-width="0.7"/>
<line x1="461.8" y1="803.4" x2="465.4" y2="803.4" stroke="#3c3c3c" stroke-width="0.7"/>
<line x1="463" y1="796.14" x2="465.4" y2="796.14" stroke="#3c3c3c" stroke-width="0.7"/>
<line x1="463" y1="788.88" x2="465.4" y2="788.88" stroke="#3c3c3c" stroke-width="0.7"/>
<line x1="463" y1="781.62" x2="465.4" y2="781.62" stroke="#3c3c3c" stroke-width="0.7"/>
<line x1="463" y1="774.36" x2="465.4" y2="774.36" stroke="#3c3c3c" stroke-width="0.7"/>
<line x1="461.8" y1="767.1" x2="465.4" y2="767.1" stroke="#3c3c3c" stroke-width="0.7"/>
<line x1="463" y1="759.84" x2="465.4" y2="759.84" stroke="#3c3c3c" stroke-width="0.7"/>
<line x1="463" y1="752.58" x2="465.4" y2="752.58" stroke="#3c3c3c" stroke-width="0.7"/>
<line x1="463" y1="745.32" x2="465.4" y2="745.32" stroke="#3c3c3c" stroke-width="0.7"/>
<text x="460.2" y="915.1" font-size="8" fill="#444" text-anchor="end" stroke="#444" stroke-width="0.15">0</text>
<text x="460.2" y="878.8" font-size="8" fill="#444" text-anchor="end" stroke="#444" stroke-width="0.15">1e6</text>
<text x="460.2" y="842.5" font-size="8" fill="#444" text-anchor="end" stroke="#444" stroke-width="0.15">2e6</text>
<text x="460.2" y="806.2" font-size="8" fill="#444" text-anchor="end" stroke="#444" stroke-width="0.15">3e6</text>
<text x="460.2" y="769.9" font-size="8" fill="#444" text-anchor="end" stroke="#444" stroke-width="0.15">4e6</text>
<line x1="473.34" y1="912.3" x2="473.34" y2="914.1" stroke="#3c3c3c" stroke-width="0.7"/>
<line x1="482.48" y1="912.3" x2="482.48" y2="914.1" stroke="#3c3c3c" stroke-width="0.7"/>
<line x1="491.62" y1="912.3" x2="491.62" y2="914.1" stroke="#3c3c3c" stroke-width="0.7"/>
<line x1="500.76" y1="912.3" x2="500.76" y2="914.1" stroke="#3c3c3c" stroke-width="0.7"/>
<line x1="509.9" y1="912.3" x2="509.9" y2="915.1" stroke="#3c3c3c" stroke-width="0.7"/>
<line x1="519.04" y1="912.3" x2="519.04" y2="914.1" stroke="#3c3c3c" stroke-width="0.7"/>
<line x1="528.18" y1="912.3" x2="528.18" y2="914.1" stroke="#3c3c3c" stroke-width="0.7"/>
<line x1="537.32" y1="912.3" x2="537.32" y2="914.1" stroke="#3c3c3c" stroke-width="0.7"/>
<line x1="546.46" y1="912.3" x2="546.46" y2="914.1" stroke="#3c3c3c" stroke-width="0.7"/>
<line x1="555.6" y1="912.3" x2="555.6" y2="915.1" stroke="#3c3c3c" stroke-width="0.7"/>
<line x1="564.74" y1="912.3" x2="564.74" y2="914.1" stroke="#3c3c3c" stroke-width="0.7"/>
<line x1="573.88" y1="912.3" x2="573.88" y2="914.1" stroke="#3c3c3c" stroke-width="0.7"/>
<line x1="583.02" y1="912.3" x2="583.02" y2="914.1" stroke="#3c3c3c" stroke-width="0.7"/>
<line x1="592.16" y1="912.3" x2="592.16" y2="914.1" stroke="#3c3c3c" stroke-width="0.7"/>
<line x1="601.3" y1="912.3" x2="601.3" y2="915.1" stroke="#3c3c3c" stroke-width="0.7"/>
<line x1="610.44" y1="912.3" x2="610.44" y2="914.1" stroke="#3c3c3c" stroke-width="0.7"/>
<line x1="619.58" y1="912.3" x2="619.58" y2="914.1" stroke="#3c3c3c" stroke-width="0.7"/>
<line x1="628.72" y1="912.3" x2="628.72" y2="914.1" stroke="#3c3c3c" stroke-width="0.7"/>
<line x1="637.86" y1="912.3" x2="637.86" y2="914.1" stroke="#3c3c3c" stroke-width="0.7"/>
<line x1="647" y1="912.3" x2="647" y2="915.1" stroke="#3c3c3c" stroke-width="0.7"/>
<line x1="656.14" y1="912.3" x2="656.14" y2="914.1" stroke="#3c3c3c" stroke-width="0.7"/>
<line x1="665.28" y1="912.3" x2="665.28" y2="914.1" stroke="#3c3c3c" stroke-width="0.7"/>
<line x1="674.42" y1="912.3" x2="674.42" y2="914.1" stroke="#3c3c3c" stroke-width="0.7"/>
<line x1="683.56" y1="912.3" x2="683.56" y2="914.1" stroke="#3c3c3c" stroke-width="0.7"/>
<line x1="692.7" y1="912.3" x2="692.7" y2="915.1" stroke="#3c3c3c" stroke-width="0.7"/>
<line x1="701.84" y1="912.3" x2="701.84" y2="914.1" stroke="#3c3c3c" stroke-width="0.7"/>
<line x1="710.98" y1="912.3" x2="710.98" y2="914.1" stroke="#3c3c3c" stroke-width="0.7"/>
<line x1="720.12" y1="912.3" x2="720.12" y2="914.1" stroke="#3c3c3c" stroke-width="0.7"/>
<line x1="729.26" y1="912.3" x2="729.26" y2="914.1" stroke="#3c3c3c" stroke-width="0.7"/>
<text x="509.9" y="924.1" font-size="8" fill="#444" text-anchor="middle" stroke="#444" stroke-width="0.15">42000</text>
<text x="555.6" y="924.1" font-size="8" fill="#444" text-anchor="middle" stroke="#444" stroke-width="0.15">43000</text>
<text x="601.3" y="924.1" font-size="8" fill="#444" text-anchor="middle" stroke="#444" stroke-width="0.15">44000</text>
<text x="647" y="924.1" font-size="8" fill="#444" text-anchor="middle" stroke="#444" stroke-width="0.15">45000</text>
<text x="692.7" y="924.1" font-size="8" fill="#444" text-anchor="middle" stroke="#444" stroke-width="0.15">46000</text>
<text x="599" y="935.3" font-size="8" fill="#44445a" text-anchor="middle" textLength="36" lengthAdjust="spacingAndGlyphs" stroke="#44445a" stroke-width="0.12">Mass [Da]</text>
<text transform="translate(432.6,826.6) rotate(-90)" font-size="7.6" fill="#4e3e4e" stroke="#4e3e4e" stroke-width="0.12" text-anchor="middle" textLength="55" lengthAdjust="spacingAndGlyphs">Intensity [Counts]</text>
<text x="742.6" y="741" font-size="8" fill="#333" text-anchor="end" textLength="24.7" lengthAdjust="spacingAndGlyphs" stroke="#333" stroke-width="0.2">4.69e6</text>
<path d="M466,911.2 L480,911 L500,911.2 L515,911 L522,910.7 L528,909.8 L533,909.3 L537,909.5 L542,910.5 L548,911 L560,911 L570,911 L571.6,910.9 L572,908.6 L572.5,910.9 L580,911 L589.4,910.8 L590.1,906 L590.7,800 L591.1,745.2 L591.5,800 L592,890 L592.6,907 L593.3,903 L593.8,909 L594.3,902.5 L594.9,909 L595.4,904 L596,909.5 L597,910.2 L598,910.6 L605,911 L620,911 L640,910.8 L644.5,909.8 L646.5,910.8 L647,911.6" stroke="#ff3c3c" stroke-width="1.2" fill="none" stroke-linejoin="round"/>
<text x="579.5" y="743.2" font-size="8" fill="#333" text-anchor="start" textLength="22.5" lengthAdjust="spacingAndGlyphs" stroke="#333" stroke-width="0.2">43763</text>
<text x="593.9" y="894.8" font-size="8" fill="#3c3c4c" text-anchor="start" textLength="22.3" lengthAdjust="spacingAndGlyphs" stroke="#3c3c4c" stroke-width="0.15">43818</text>
<path d="M594.7,900.9 L595.8,897.4 M598.2,902.8 L602,902.8" stroke="#444" stroke-width="0.8"/>
<text x="602.3" y="905.8" font-size="8" fill="#3c3c4c" text-anchor="start" textLength="23.1" lengthAdjust="spacingAndGlyphs" stroke="#3c3c4c" stroke-width="0.15">43863</text>
</g></svg></div></body></html>
